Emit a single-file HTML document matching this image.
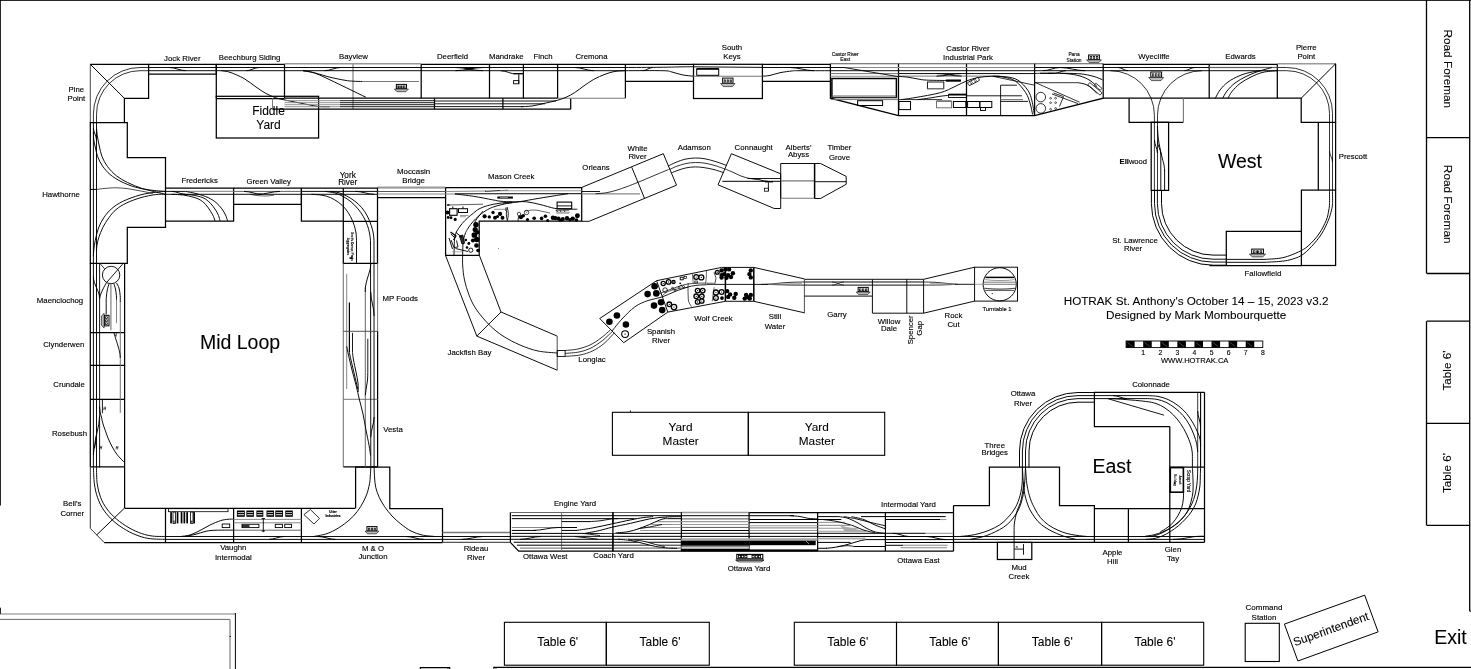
<!DOCTYPE html>
<html><head><meta charset="utf-8"><title>HOTRAK layout</title>
<style>
html,body{margin:0;padding:0;background:#fff;}
body{width:1471px;height:669px;overflow:hidden;font-family:"Liberation Sans",sans-serif;}
svg{display:block;filter:grayscale(1);}
svg text{font-family:"Liberation Sans",sans-serif;fill:#000;}
</style></head><body>
<svg width="1471" height="669" viewBox="0 0 1471 669">
<rect x="0" y="0" width="1471" height="669" fill="#fff"/>
<line x1="0" y1="0.45" x2="1471" y2="0.45" stroke="#000" stroke-width="0.9"/>
<line x1="0.45" y1="0" x2="0.45" y2="505.5" stroke="#000" stroke-width="0.9"/>
<line x1="493.6" y1="667.3" x2="1471" y2="667.3" stroke="#000" stroke-width="1.3"/>
<line x1="0" y1="613.9" x2="235.4" y2="613.9" stroke="#aaa" stroke-width="1.5"/>
<line x1="235.4" y1="613.0" x2="235.4" y2="669" stroke="#000" stroke-width="1.0"/>
<line x1="0" y1="619.4" x2="230" y2="619.4" stroke="#666" stroke-width="1.0"/>
<line x1="230" y1="619.4" x2="230" y2="669" stroke="#999" stroke-width="1.5"/>
<circle cx="230.3" cy="636.4" r="0.6" fill="#000"/>
<line x1="0.45" y1="607.7" x2="0.45" y2="613.9" stroke="#000" stroke-width="0.9"/>
<polyline points="420.3,669 420.3,667.6 449.7,667.6 449.7,669" fill="none" stroke="#000" stroke-width="1.1"/>
<line x1="447.9" y1="667.6" x2="447.9" y2="669" stroke="#000" stroke-width="0.8"/>
<line x1="493.8" y1="666.8" x2="493.8" y2="669" stroke="#000" stroke-width="0.9"/>
<line x1="496" y1="667.3" x2="496" y2="669" stroke="#000" stroke-width="0.8"/>
<line x1="1469.7" y1="0" x2="1469.7" y2="611.2" stroke="#000" stroke-width="1.3"/>
<line x1="1469.7" y1="611.2" x2="1471" y2="611.2" stroke="#000" stroke-width="1.0"/>
<line x1="1426.5" y1="0" x2="1426.5" y2="273.5" stroke="#000" stroke-width="1.3"/>
<line x1="1426.8" y1="137.7" x2="1469.6" y2="137.7" stroke="#000" stroke-width="1.3"/>
<line x1="1426.8" y1="273.5" x2="1469.6" y2="273.5" stroke="#000" stroke-width="1.3"/>
<line x1="1426.5" y1="321.2" x2="1426.5" y2="525.4" stroke="#000" stroke-width="1.3"/>
<line x1="1426.8" y1="321.2" x2="1469.6" y2="321.2" stroke="#000" stroke-width="1.3"/>
<line x1="1426.8" y1="423.4" x2="1469.6" y2="423.4" stroke="#000" stroke-width="1.3"/>
<line x1="1426.8" y1="525.4" x2="1469.6" y2="525.4" stroke="#000" stroke-width="1.3"/>
<text x="1444" y="68.8" font-size="11.8" text-anchor="middle" transform="rotate(90 1444 68.8)" stroke="#000" stroke-width="0.08">Road Foreman</text>
<text x="1444" y="204.2" font-size="11.8" text-anchor="middle" transform="rotate(90 1444 204.2)" stroke="#000" stroke-width="0.08">Road Foreman</text>
<text x="1450.8" y="370.5" font-size="11.7" text-anchor="middle" transform="rotate(-90 1450.8 370.5)" stroke="#000" stroke-width="0.08">Table 6'</text>
<text x="1450.8" y="473" font-size="11.7" text-anchor="middle" transform="rotate(-90 1450.8 473)" stroke="#000" stroke-width="0.08">Table 6'</text>
<rect x="504.4" y="622.3" width="101.9" height="42.9" fill="none" stroke="#000" stroke-width="1.1"/>
<text x="557.6499999999999" y="646.3" font-size="12" text-anchor="middle" stroke="#000" stroke-width="0.08">Table 6'</text>
<rect x="606.3" y="622.3" width="103.0" height="42.9" fill="none" stroke="#000" stroke-width="1.1"/>
<text x="660.0999999999999" y="646.3" font-size="12" text-anchor="middle" stroke="#000" stroke-width="0.08">Table 6'</text>
<rect x="794.3" y="622.3" width="102.2" height="42.9" fill="none" stroke="#000" stroke-width="1.1"/>
<text x="847.6999999999999" y="646.3" font-size="12" text-anchor="middle" stroke="#000" stroke-width="0.08">Table 6'</text>
<rect x="896.5" y="622.3" width="101.9" height="42.9" fill="none" stroke="#000" stroke-width="1.1"/>
<text x="949.75" y="646.3" font-size="12" text-anchor="middle" stroke="#000" stroke-width="0.08">Table 6'</text>
<rect x="998.4" y="622.3" width="103.2" height="42.9" fill="none" stroke="#000" stroke-width="1.1"/>
<text x="1052.3" y="646.3" font-size="12" text-anchor="middle" stroke="#000" stroke-width="0.08">Table 6'</text>
<rect x="1101.6" y="622.3" width="102.1" height="42.9" fill="none" stroke="#000" stroke-width="1.1"/>
<text x="1154.95" y="646.3" font-size="12" text-anchor="middle" stroke="#000" stroke-width="0.08">Table 6'</text>
<rect x="1245.2" y="623.3" width="34.1" height="38.2" fill="none" stroke="#000" stroke-width="1.1"/>
<text x="1264" y="610.2" font-size="8" text-anchor="middle" stroke="#000" stroke-width="0.13">Command</text>
<text x="1264" y="619.8000000000001" font-size="8" text-anchor="middle" stroke="#000" stroke-width="0.13">Station</text>
<polygon points="1284.4,624.1 1364.7,595.2 1378.1,631.9 1297.9,661" fill="none" stroke="#000" stroke-width="1.0"/>
<text x="1332.3" y="632.8" font-size="11.7" text-anchor="middle" transform="rotate(-19.8 1332.3 632.8)" stroke="#000" stroke-width="0.08">Superintendent</text>
<text x="1450.4" y="643.7" font-size="19.5" text-anchor="middle" stroke="#000" stroke-width="0.08">Exit</text>
<rect x="612.4" y="412.3" width="135.9" height="43.0" fill="none" stroke="#000" stroke-width="1.1"/>
<rect x="748.3" y="412.3" width="136.4" height="43.0" fill="none" stroke="#000" stroke-width="1.1"/>
<text x="680.6" y="430.8" font-size="11.8" text-anchor="middle" stroke="#000" stroke-width="0.08">Yard</text>
<text x="680.6" y="444.90000000000003" font-size="11.8" text-anchor="middle" stroke="#000" stroke-width="0.08">Master</text>
<text x="816.8" y="430.8" font-size="11.8" text-anchor="middle" stroke="#000" stroke-width="0.08">Yard</text>
<text x="816.8" y="444.90000000000003" font-size="11.8" text-anchor="middle" stroke="#000" stroke-width="0.08">Master</text>
<text x="1063.7" y="304.9" font-size="11.7" text-anchor="start" stroke="#000" stroke-width="0.08">HOTRAK St. Anthony's October 14 – 15, 2023 v3.2</text>
<text x="1106" y="318.7" font-size="11.75" text-anchor="start" stroke="#000" stroke-width="0.08">Designed by Mark Mombourquette</text>
<rect x="1126.10" y="341" width="8.54" height="6.6" fill="#000"/>
<rect x="1143.19" y="341" width="8.54" height="6.6" fill="#000"/>
<rect x="1160.27" y="341" width="8.54" height="6.6" fill="#000"/>
<rect x="1177.36" y="341" width="8.54" height="6.6" fill="#000"/>
<rect x="1194.45" y="341" width="8.54" height="6.6" fill="#000"/>
<rect x="1211.54" y="341" width="8.54" height="6.6" fill="#000"/>
<rect x="1228.62" y="341" width="8.54" height="6.6" fill="#000"/>
<rect x="1245.71" y="341" width="8.54" height="6.6" fill="#000"/>
<rect x="1126.1" y="341" width="136.7" height="6.6" fill="none" stroke="#000" stroke-width="0.9"/>
<text x="1143.1875" y="354.8" font-size="6.8" text-anchor="middle" stroke="#000" stroke-width="0.13">1</text>
<text x="1160.2749999999999" y="354.8" font-size="6.8" text-anchor="middle" stroke="#000" stroke-width="0.13">2</text>
<text x="1177.3625" y="354.8" font-size="6.8" text-anchor="middle" stroke="#000" stroke-width="0.13">3</text>
<text x="1194.4499999999998" y="354.8" font-size="6.8" text-anchor="middle" stroke="#000" stroke-width="0.13">4</text>
<text x="1211.5375" y="354.8" font-size="6.8" text-anchor="middle" stroke="#000" stroke-width="0.13">5</text>
<text x="1228.625" y="354.8" font-size="6.8" text-anchor="middle" stroke="#000" stroke-width="0.13">6</text>
<text x="1245.7124999999999" y="354.8" font-size="6.8" text-anchor="middle" stroke="#000" stroke-width="0.13">7</text>
<text x="1262.8" y="354.8" font-size="6.8" text-anchor="middle" stroke="#000" stroke-width="0.13">8</text>
<text x="1194.7" y="362.9" font-size="7.6" text-anchor="middle" stroke="#000" stroke-width="0.13">WWW.HOTRAK.CA</text>
<text x="240" y="349" font-size="19.5" text-anchor="middle" stroke="#000" stroke-width="0.08">Mid Loop</text>
<text x="1240" y="168" font-size="19.5" text-anchor="middle" stroke="#000" stroke-width="0.08">West</text>
<text x="1112" y="472.6" font-size="19.5" text-anchor="middle" stroke="#000" stroke-width="0.08">East</text>
<text x="268.5" y="115" font-size="12" text-anchor="middle" stroke="#000" stroke-width="0.08">Fiddle</text>
<text x="268.5" y="129.1" font-size="12" text-anchor="middle" stroke="#000" stroke-width="0.08">Yard</text>
<polyline points="90.3,64.3 148.6,64.3 148.6,98.3 124.4,98.3 124.4,122.6" fill="none" stroke="#000" stroke-width="1.25"/>
<line x1="90.3" y1="64.3" x2="90.3" y2="122.6" stroke="#333" stroke-width="0.9"/>
<line x1="90.3" y1="64.3" x2="124.4" y2="98.3" stroke="#000" stroke-width="1.0"/>
<polyline points="148.6,64.3 216.3,64.3 216.3,74.2 148.6,74.2" fill="none" stroke="#000" stroke-width="1.25"/>
<polyline points="216.3,64.3 284.5,64.3 284.5,98.2" fill="none" stroke="#000" stroke-width="1.25"/>
<line x1="216.3" y1="64.3" x2="216.3" y2="98.2" stroke="#000" stroke-width="1.25"/>
<line x1="216.3" y1="98.5" x2="284.5" y2="98.5" stroke="#000" stroke-width="1.25"/>
<rect x="216.3" y="96.3" width="102.3" height="41.7" fill="none" stroke="#000" stroke-width="1.25"/>
<line x1="284.5" y1="63.7" x2="421.2" y2="63.7" stroke="#999" stroke-width="1.6"/>
<line x1="353.0" y1="64" x2="353.0" y2="109.2" stroke="#999" stroke-width="1.5"/>
<line x1="421.2" y1="64.3" x2="421.2" y2="98.2" stroke="#000" stroke-width="1.25"/>
<line x1="272.5" y1="98.2" x2="272.5" y2="109.2" stroke="#777" stroke-width="1.0"/>
<line x1="272.5" y1="109.2" x2="570.7" y2="109.2" stroke="#000" stroke-width="1.25"/>
<line x1="284.5" y1="98.2" x2="557.6" y2="98.2" stroke="#000" stroke-width="1.25"/>
<line x1="434.5" y1="98.2" x2="434.5" y2="109.2" stroke="#000" stroke-width="1.25"/>
<line x1="502.9" y1="98.2" x2="502.9" y2="109.2" stroke="#000" stroke-width="1.25"/>
<line x1="570.7" y1="98.2" x2="570.7" y2="109.2" stroke="#000" stroke-width="1.25"/>
<line x1="421.2" y1="64.3" x2="625.4" y2="64.3" stroke="#000" stroke-width="1.25"/>
<line x1="489.5" y1="64.3" x2="489.5" y2="98.2" stroke="#000" stroke-width="1.25"/>
<line x1="523.4" y1="64.3" x2="523.4" y2="98.2" stroke="#000" stroke-width="1.25"/>
<line x1="557.6" y1="64.3" x2="557.6" y2="98.2" stroke="#000" stroke-width="1.25"/>
<line x1="625.4" y1="64.3" x2="625.4" y2="98.2" stroke="#000" stroke-width="1.25"/>
<line x1="557.6" y1="98.2" x2="625.4" y2="98.2" stroke="#777" stroke-width="1.1"/>
<polyline points="625.4,64.3 693.5,64.3" fill="none" stroke="#000" stroke-width="1.25"/>
<line x1="625.4" y1="81.4" x2="693.5" y2="81.4" stroke="#000" stroke-width="1.25"/>
<rect x="693.5" y="64.3" width="68.9" height="34.2" fill="none" stroke="#000" stroke-width="1.25"/>
<line x1="762.4" y1="64.3" x2="830.4" y2="64.3" stroke="#000" stroke-width="1.25"/>
<line x1="762.4" y1="81.4" x2="830.4" y2="81.4" stroke="#000" stroke-width="1.25"/>
<line x1="830.4" y1="63.8" x2="1103.2" y2="63.8" stroke="#555" stroke-width="1.1"/>
<polyline points="830.4,63.8 830.4,98.2 898.5,115.5 1034.6,115.5 1103.2,98.2 1103.2,63.8" fill="none" stroke="#000" stroke-width="1.25"/>
<line x1="898.5" y1="63.8" x2="898.5" y2="115.5" stroke="#000" stroke-width="1.25"/>
<line x1="966.5" y1="63.8" x2="966.5" y2="115.5" stroke="#000" stroke-width="1.25"/>
<line x1="1034.6" y1="63.8" x2="1034.6" y2="115.5" stroke="#000" stroke-width="1.25"/>
<polyline points="1103.2,64.3 1209.2,64.3 1209.2,98.2 1103.2,98.2" fill="none" stroke="#000" stroke-width="1.25"/>
<polyline points="1129.1,98.2 1129.1,122.3 1183.4,122.3" fill="none" stroke="#000" stroke-width="1.25"/>
<line x1="1183.4" y1="98.2" x2="1183.4" y2="122.3" stroke="#777" stroke-width="1.1"/>
<polyline points="1209.2,64.3 1277.3,64.3 1277.3,98.2 1209.2,98.2" fill="none" stroke="#000" stroke-width="1.25"/>
<line x1="1277.3" y1="63.7" x2="1335.6" y2="63.7" stroke="#999" stroke-width="1.5"/>
<polyline points="1335.6,63.8 1335.6,122.3 1301.2,122.3 1301.2,98.2 1277.3,98.2" fill="none" stroke="#000" stroke-width="1.25"/>
<line x1="1335.6" y1="63.8" x2="1301.2" y2="98.2" stroke="#000" stroke-width="1.0"/>
<line x1="1318.3" y1="122.3" x2="1318.3" y2="190.1" stroke="#000" stroke-width="1.25"/>
<line x1="1335.6" y1="122.3" x2="1335.6" y2="190.1" stroke="#000" stroke-width="1.25"/>
<rect x="1301.4" y="190.1" width="34.2" height="75.4" fill="none" stroke="#000" stroke-width="1.25"/>
<polyline points="1226.3,265.5 1226.3,231.3 1301.4,231.3" fill="none" stroke="#000" stroke-width="1.25"/>
<line x1="1209.5" y1="265.5" x2="1301.4" y2="265.5" stroke="#000" stroke-width="1.25"/>
<rect x="1151.2" y="122.3" width="17.4" height="68.1" fill="none" stroke="#000" stroke-width="1.25"/>
<polygon points="90.3,122.6 127.3,122.6 127.3,157.5 165.5,157.5 165.5,227.3 127.3,227.3 127.3,263.4 90.3,263.4" fill="none" stroke="#000" stroke-width="1.25"/>
<polyline points="165.5,188.1 233.6,188.1 233.6,221.2 165.5,221.2" fill="none" stroke="#000" stroke-width="1.25"/>
<polyline points="233.6,188.1 301.4,188.1 301.4,204.4 233.6,204.4" fill="none" stroke="#000" stroke-width="1.25"/>
<polyline points="301.4,188.1 377.5,188.1 377.5,263.4 343.3,263.4 343.3,221.2 301.4,221.2 301.4,188.1" fill="none" stroke="#000" stroke-width="1.25"/>
<line x1="343.3" y1="188.1" x2="343.3" y2="221.2" stroke="#000" stroke-width="1.25"/>
<line x1="343.3" y1="221.3" x2="377.5" y2="221.3" stroke="#000" stroke-width="1.25"/>
<line x1="343.3" y1="263.4" x2="343.3" y2="466.8" stroke="#777" stroke-width="1.1"/>
<line x1="377.6" y1="263.4" x2="377.6" y2="331.3" stroke="#777" stroke-width="1.0"/>
<line x1="377.6" y1="331.3" x2="377.6" y2="467.2" stroke="#000" stroke-width="1.25"/>
<line x1="343.3" y1="399.3" x2="377.5" y2="399.3" stroke="#777" stroke-width="1.0"/>
<line x1="343.3" y1="466.8" x2="377.5" y2="466.8" stroke="#000" stroke-width="1.25"/>
<line x1="90.3" y1="263.4" x2="90.3" y2="466.8" stroke="#000" stroke-width="1.25"/>
<line x1="124.6" y1="263.4" x2="124.6" y2="508" stroke="#000" stroke-width="1.25"/>
<line x1="90.3" y1="365.4" x2="124.6" y2="365.4" stroke="#000" stroke-width="1.25"/>
<line x1="90.3" y1="399.3" x2="124.6" y2="399.3" stroke="#000" stroke-width="1.25"/>
<line x1="90.3" y1="466.8" x2="124.6" y2="466.8" stroke="#000" stroke-width="1.25"/>
<line x1="90.3" y1="332.5" x2="124.6" y2="332.5" stroke="#000" stroke-width="1.25"/>
<polyline points="90.3,466.8 90.3,528.4 104.2,542.5" fill="none" stroke="#333" stroke-width="1.0"/>
<line x1="104.2" y1="542.5" x2="442.6" y2="542.5" stroke="#000" stroke-width="1.25"/>
<line x1="124.6" y1="508.3" x2="355.4" y2="508.3" stroke="#000" stroke-width="1.25"/>
<line x1="124.6" y1="508" x2="96.7" y2="534.9" stroke="#000" stroke-width="1.0"/>
<line x1="165.5" y1="508.3" x2="165.5" y2="542.5" stroke="#000" stroke-width="1.25"/>
<line x1="233.6" y1="508.3" x2="233.6" y2="542.5" stroke="#000" stroke-width="1.25"/>
<line x1="301.4" y1="508.3" x2="301.4" y2="542.5" stroke="#000" stroke-width="1.25"/>
<polyline points="355.6,508.3 355.6,467.2 389.8,467.2 389.8,508.5 442.5,508.5 442.5,542.5" fill="none" stroke="#000" stroke-width="1.25"/>
<line x1="442.5" y1="532.5" x2="510.3" y2="532.5" stroke="#777" stroke-width="1.4"/>
<line x1="442.5" y1="542.3" x2="510.3" y2="542.3" stroke="#555" stroke-width="1.2"/>
<polyline points="510.4,542.4 510.4,512.3" fill="none" stroke="#000" stroke-width="1.25"/>
<line x1="510.4" y1="512.5" x2="681.3" y2="512.5" stroke="#666" stroke-width="1.2"/>
<line x1="681.3" y1="512.5" x2="749.4" y2="512.5" stroke="#999" stroke-width="1.3"/>
<line x1="749.4" y1="512.6" x2="953.5" y2="512.6" stroke="#000" stroke-width="1.2"/>
<polyline points="510.4,542.4 518.7,551.2 953.5,551.2" fill="none" stroke="#000" stroke-width="1.25"/>
<line x1="561.6" y1="512.3" x2="561.6" y2="551.2" stroke="#777" stroke-width="1.0"/>
<line x1="612.9" y1="512.3" x2="612.9" y2="551.2" stroke="#000" stroke-width="1.25"/>
<line x1="681.4" y1="512.3" x2="681.4" y2="551.2" stroke="#000" stroke-width="1.25"/>
<line x1="749.1" y1="512.3" x2="749.1" y2="551.2" stroke="#000" stroke-width="1.25"/>
<line x1="817.6" y1="512.3" x2="817.6" y2="551.2" stroke="#000" stroke-width="1.25"/>
<line x1="885.4" y1="512.3" x2="885.4" y2="551.2" stroke="#000" stroke-width="1.25"/>
<line x1="953.5" y1="505.5" x2="953.5" y2="551.2" stroke="#000" stroke-width="1.25"/>
<polyline points="953.5,505.5 989.4,505.5 989.4,467.1 1059.5,467.1 1059.5,505.5 1094.4,505.5 1094.4,542.4" fill="none" stroke="#000" stroke-width="1.25"/>
<line x1="953.5" y1="542.4" x2="1204.5" y2="542.4" stroke="#000" stroke-width="1.25"/>
<rect x="997.4" y="542.4" width="34.4" height="17.1" fill="none" stroke="#000" stroke-width="1.25"/>
<line x1="1094.4" y1="508.5" x2="1204.5" y2="508.5" stroke="#000" stroke-width="1.25"/>
<line x1="1128.4" y1="508.5" x2="1128.4" y2="542.4" stroke="#000" stroke-width="1.25"/>
<line x1="1169.8" y1="426.4" x2="1169.8" y2="542.4" stroke="#000" stroke-width="1.25"/>
<line x1="1204.5" y1="392.3" x2="1204.5" y2="542.4" stroke="#000" stroke-width="1.25"/>
<polyline points="1204.5,392.3 1094.4,392.3 1094.4,426.5 1169.8,426.5" fill="none" stroke="#000" stroke-width="1.25"/>
<line x1="1169.8" y1="467.1" x2="1204.5" y2="467.1" stroke="#000" stroke-width="1.25"/>
<rect x="1170.3" y="467.6" width="13.1" height="24.6" fill="none" stroke="#000" stroke-width="1.6"/>
<line x1="377.5" y1="187.6" x2="445.6" y2="187.6" stroke="#000" stroke-width="1.25"/>
<line x1="377.5" y1="197.6" x2="445.6" y2="197.6" stroke="#000" stroke-width="1.25"/>
<polygon points="445.6,187.6 581.7,187.6 581.7,221.2 479.2,221.2 479.2,255.4 445.6,255.4" fill="none" stroke="#000" stroke-width="1.25"/>
<polyline points="581.8,187.4 663.3,153.7 676.5,185.2 589.1,221.3 581.7,221.3" fill="none" stroke="#000" stroke-width="0.95"/>
<line x1="631.7" y1="167.1" x2="644.6" y2="198.5" stroke="#000" stroke-width="0.95"/>
<polygon points="731.4,153.7 780.7,173.8 780.7,208.5 774.2,208.5 718,184.8" fill="none" stroke="#000" stroke-width="0.95"/>
<polyline points="780.7,198.5 780.7,163.5 820.5,163.5 846.2,176.4 846.2,184.3 820.5,198.5 814.6,198.5" fill="none" stroke="#000" stroke-width="0.95"/>
<line x1="780.7" y1="198.3" x2="814.6" y2="198.3" stroke="#777" stroke-width="1.1"/>
<line x1="780.7" y1="180.9" x2="814.6" y2="180.9" stroke="#777" stroke-width="1.1"/>
<line x1="814.6" y1="163.5" x2="814.6" y2="198.5" stroke="#000" stroke-width="1.5"/>
<line x1="814.6" y1="181.7" x2="846.2" y2="181.7" stroke="#000" stroke-width="0.95"/>
<polyline points="445.5,255.4 476.8,336.1 557.2,370.2" fill="none" stroke="#000" stroke-width="0.95"/>
<polyline points="479.4,255.4 501,312 557.2,336.1" fill="none" stroke="#000" stroke-width="0.95"/>
<line x1="476.8" y1="336.1" x2="501" y2="312" stroke="#000" stroke-width="0.95"/>
<line x1="557.2" y1="336.1" x2="557.2" y2="370.2" stroke="#444" stroke-width="0.95"/>
<rect x="557.2" y="350.5" width="7.9" height="5.9" fill="none" stroke="#000" stroke-width="0.9"/>
<polygon points="599.7,318.5 656.6,280.7 667.8,312.1 623.7,342.7" fill="none" stroke="#000" stroke-width="0.95"/>
<polyline points="656.6,280.7 721.6,267.4 753.8,267.4" fill="none" stroke="#000" stroke-width="0.95"/>
<polyline points="667.8,312.1 725.4,301.3 753.8,301.3" fill="none" stroke="#000" stroke-width="0.95"/>
<line x1="725.4" y1="267.4" x2="725.4" y2="301.3" stroke="#000" stroke-width="1.5"/>
<line x1="753.8" y1="267.4" x2="753.8" y2="301.3" stroke="#000" stroke-width="1.5"/>
<polyline points="753.8,267.4 804.4,278.9" fill="none" stroke="#000" stroke-width="0.95"/>
<polyline points="753.8,301.3 804.4,312.8" fill="none" stroke="#000" stroke-width="0.95"/>
<line x1="804.4" y1="279.3" x2="804.4" y2="313.2" stroke="#444" stroke-width="0.95"/>
<polyline points="804.4,279.3 872.4,279.3" fill="none" stroke="#000" stroke-width="0.95"/>
<polyline points="804.4,296.1 872.4,296.1" fill="none" stroke="#000" stroke-width="0.95"/>
<polyline points="872.4,279.3 923.6,279.3" fill="none" stroke="#000" stroke-width="0.95"/>
<polyline points="872.4,279.3 872.4,313.2 923.6,313.2 923.6,279.3" fill="none" stroke="#000" stroke-width="0.95"/>
<line x1="906.8" y1="279.3" x2="906.8" y2="313.2" stroke="#000" stroke-width="0.95"/>
<polyline points="923.6,279.3 974.6,267.2" fill="none" stroke="#000" stroke-width="0.95"/>
<polyline points="923.6,313.2 974.6,301.1" fill="none" stroke="#000" stroke-width="0.95"/>
<rect x="974.6" y="267.2" width="42.9" height="33.9" fill="none" stroke="#000" stroke-width="0.95"/>
<circle cx="999.7" cy="284.3" r="16.6" fill="none" stroke="#000" stroke-width="0.95"/>
<text x="182.3" y="60.7" font-size="7.8" text-anchor="middle" stroke="#000" stroke-width="0.13">Jock River</text>
<text x="249.6" y="60.4" font-size="7.8" text-anchor="middle" stroke="#000" stroke-width="0.13">Beechburg Siding</text>
<text x="353.5" y="58.7" font-size="7.8" text-anchor="middle" stroke="#000" stroke-width="0.13">Bayview</text>
<text x="452.6" y="58.8" font-size="7.8" text-anchor="middle" stroke="#000" stroke-width="0.13">Deerfield</text>
<text x="506.3" y="58.7" font-size="7.8" text-anchor="middle" stroke="#000" stroke-width="0.13">Mandrake</text>
<text x="543" y="58.8" font-size="7.8" text-anchor="middle" stroke="#000" stroke-width="0.13">Finch</text>
<text x="591.5" y="58.7" font-size="7.8" text-anchor="middle" stroke="#000" stroke-width="0.13">Cremona</text>
<text x="732" y="49.5" font-size="7.8" text-anchor="middle" stroke="#000" stroke-width="0.13">South</text>
<text x="732" y="58.8" font-size="7.8" text-anchor="middle" stroke="#000" stroke-width="0.13">Keys</text>
<text x="968" y="50.8" font-size="7.8" text-anchor="middle" stroke="#000" stroke-width="0.13">Castor River</text>
<text x="968" y="60.2" font-size="7.8" text-anchor="middle" stroke="#000" stroke-width="0.13">Industrial Park</text>
<text x="845.2" y="56" font-size="4.85" text-anchor="middle" stroke="#000" stroke-width="0.13">Castor River</text>
<text x="845.2" y="60.7" font-size="4.85" text-anchor="middle" stroke="#000" stroke-width="0.13">East</text>
<text x="1074" y="55.5" font-size="4.8" text-anchor="middle" stroke="#000" stroke-width="0.13">Pana</text>
<text x="1074" y="61.8" font-size="4.8" text-anchor="middle" stroke="#000" stroke-width="0.13">Station</text>
<text x="1154" y="59.1" font-size="7.8" text-anchor="middle" stroke="#000" stroke-width="0.13">Wyecliffe</text>
<text x="1240.5" y="59.0" font-size="7.8" text-anchor="middle" stroke="#000" stroke-width="0.13">Edwards</text>
<text x="1306.3" y="49.9" font-size="7.8" text-anchor="middle" stroke="#000" stroke-width="0.13">Pierre</text>
<text x="1306.3" y="59.1" font-size="7.8" text-anchor="middle" stroke="#000" stroke-width="0.13">Point</text>
<text x="76.4" y="91.9" font-size="7.8" text-anchor="middle" stroke="#000" stroke-width="0.13">Pine</text>
<text x="76.4" y="101.1" font-size="7.8" text-anchor="middle" stroke="#000" stroke-width="0.13">Point</text>
<text x="79.9" y="197.4" font-size="7.8" text-anchor="end" stroke="#000" stroke-width="0.13">Hawthorne</text>
<text x="199.6" y="183" font-size="7.8" text-anchor="middle" stroke="#000" stroke-width="0.13">Fredericks</text>
<text x="268.7" y="183.5" font-size="7.8" text-anchor="middle" stroke="#000" stroke-width="0.13">Green Valley</text>
<text x="347.7" y="177.8" font-size="8.2" text-anchor="middle" stroke="#000" stroke-width="0.13">York</text>
<text x="347.7" y="185.3" font-size="8.2" text-anchor="middle" stroke="#000" stroke-width="0.13">River</text>
<text x="413.6" y="174.1" font-size="7.9" text-anchor="middle" stroke="#000" stroke-width="0.13">Moccasin</text>
<text x="413.6" y="182.7" font-size="7.9" text-anchor="middle" stroke="#000" stroke-width="0.13">Bridge</text>
<text x="511.3" y="179" font-size="7.8" text-anchor="middle" stroke="#000" stroke-width="0.13">Mason Creek</text>
<text x="596" y="169.6" font-size="7.8" text-anchor="middle" stroke="#000" stroke-width="0.13">Orleans</text>
<text x="637.5" y="151.4" font-size="7.8" text-anchor="middle" stroke="#000" stroke-width="0.13">White</text>
<text x="637.5" y="158.7" font-size="7.8" text-anchor="middle" stroke="#000" stroke-width="0.13">River</text>
<text x="694.3" y="150.0" font-size="7.8" text-anchor="middle" stroke="#000" stroke-width="0.13">Adamson</text>
<text x="753.7" y="150.0" font-size="7.8" text-anchor="middle" stroke="#000" stroke-width="0.13">Connaught</text>
<text x="798.5" y="150.0" font-size="7.8" text-anchor="middle" stroke="#000" stroke-width="0.13">Alberts'</text>
<text x="798.5" y="156.7" font-size="7.8" text-anchor="middle" stroke="#000" stroke-width="0.13">Abyss</text>
<text x="839.5" y="149.6" font-size="7.8" text-anchor="middle" stroke="#000" stroke-width="0.13">Timber</text>
<text x="839.5" y="159.5" font-size="7.8" text-anchor="middle" stroke="#000" stroke-width="0.13">Grove</text>
<text x="83.2" y="302.7" font-size="7.8" text-anchor="end" stroke="#000" stroke-width="0.13">Maenclochog</text>
<text x="84.4" y="346.8" font-size="7.8" text-anchor="end" stroke="#000" stroke-width="0.13">Clynderwen</text>
<text x="84.9" y="386.9" font-size="7.8" text-anchor="end" stroke="#000" stroke-width="0.13">Crundale</text>
<text x="87.1" y="436" font-size="7.8" text-anchor="end" stroke="#000" stroke-width="0.13">Rosebush</text>
<text x="72.3" y="506" font-size="7.8" text-anchor="middle" stroke="#000" stroke-width="0.13">Bell's</text>
<text x="72.3" y="515.5" font-size="7.8" text-anchor="middle" stroke="#000" stroke-width="0.13">Corner</text>
<text x="400.2" y="301" font-size="7.8" text-anchor="middle" stroke="#000" stroke-width="0.13">MP Foods</text>
<text x="393" y="432" font-size="7.8" text-anchor="middle" stroke="#000" stroke-width="0.13">Vesta</text>
<text x="469.5" y="355.3" font-size="7.8" text-anchor="middle" stroke="#000" stroke-width="0.13">Jackfish Bay</text>
<text x="592" y="361.8" font-size="7.8" text-anchor="middle" stroke="#000" stroke-width="0.13">Longlac</text>
<text x="661" y="333.5" font-size="7.8" text-anchor="middle" stroke="#000" stroke-width="0.13">Spanish</text>
<text x="661" y="342.8" font-size="7.8" text-anchor="middle" stroke="#000" stroke-width="0.13">River</text>
<text x="713.5" y="320.5" font-size="7.8" text-anchor="middle" stroke="#000" stroke-width="0.13">Wolf Creek</text>
<text x="775" y="319.0" font-size="7.8" text-anchor="middle" stroke="#000" stroke-width="0.13">Still</text>
<text x="775" y="328.9" font-size="7.8" text-anchor="middle" stroke="#000" stroke-width="0.13">Water</text>
<text x="837" y="317.1" font-size="7.8" text-anchor="middle" stroke="#000" stroke-width="0.13">Garry</text>
<text x="889" y="324" font-size="7.8" text-anchor="middle" stroke="#000" stroke-width="0.13">Willow</text>
<text x="889" y="330.6" font-size="7.8" text-anchor="middle" stroke="#000" stroke-width="0.13">Dale</text>
<text x="913.3" y="329.8" font-size="7.8" text-anchor="middle" transform="rotate(-90 913.3 329.8)" stroke="#000" stroke-width="0.13">Spencer</text>
<text x="922.3" y="328.3" font-size="7.8" text-anchor="middle" transform="rotate(-90 922.3 328.3)" stroke="#000" stroke-width="0.13">Gap</text>
<text x="953.5" y="317.5" font-size="7.8" text-anchor="middle" stroke="#000" stroke-width="0.13">Rock</text>
<text x="953.5" y="327.2" font-size="7.8" text-anchor="middle" stroke="#000" stroke-width="0.13">Cut</text>
<text x="997" y="310.6" font-size="5.8" text-anchor="middle" stroke="#000" stroke-width="0.13">Turntable 1</text>
<text x="1151" y="386.9" font-size="7.8" text-anchor="middle" stroke="#000" stroke-width="0.13">Colonnade</text>
<text x="1023" y="396.3" font-size="7.8" text-anchor="middle" stroke="#000" stroke-width="0.13">Ottawa</text>
<text x="1023" y="405.6" font-size="7.8" text-anchor="middle" stroke="#000" stroke-width="0.13">River</text>
<text x="994.8" y="448.3" font-size="7.8" text-anchor="middle" stroke="#000" stroke-width="0.13">Three</text>
<text x="994.8" y="455.1" font-size="7.8" text-anchor="middle" stroke="#000" stroke-width="0.13">Bridges</text>
<text x="575" y="506" font-size="7.8" text-anchor="middle" stroke="#000" stroke-width="0.13">Engine Yard</text>
<text x="908.5" y="507.2" font-size="7.8" text-anchor="middle" stroke="#000" stroke-width="0.13">Intermodal Yard</text>
<text x="233.3" y="550.3" font-size="7.8" text-anchor="middle" stroke="#000" stroke-width="0.13">Vaughn</text>
<text x="233.3" y="559.5" font-size="7.8" text-anchor="middle" stroke="#000" stroke-width="0.13">Intermodal</text>
<text x="373" y="550.5" font-size="7.8" text-anchor="middle" stroke="#000" stroke-width="0.13">M &amp; O</text>
<text x="373" y="559.1" font-size="7.8" text-anchor="middle" stroke="#000" stroke-width="0.13">Junction</text>
<text x="476" y="550.8" font-size="7.8" text-anchor="middle" stroke="#000" stroke-width="0.13">Rideau</text>
<text x="476" y="560.4" font-size="7.8" text-anchor="middle" stroke="#000" stroke-width="0.13">River</text>
<text x="545.3" y="559" font-size="7.8" text-anchor="middle" stroke="#000" stroke-width="0.13">Ottawa West</text>
<text x="613.5" y="558" font-size="7.8" text-anchor="middle" stroke="#000" stroke-width="0.13">Coach Yard</text>
<text x="749" y="571" font-size="7.8" text-anchor="middle" stroke="#000" stroke-width="0.13">Ottawa Yard</text>
<text x="918.5" y="562.9" font-size="7.8" text-anchor="middle" stroke="#000" stroke-width="0.13">Ottawa East</text>
<text x="1019" y="569.6" font-size="7.8" text-anchor="middle" stroke="#000" stroke-width="0.13">Mud</text>
<text x="1019" y="579.3" font-size="7.8" text-anchor="middle" stroke="#000" stroke-width="0.13">Creek</text>
<text x="1112.5" y="555" font-size="7.8" text-anchor="middle" stroke="#000" stroke-width="0.13">Apple</text>
<text x="1112.5" y="564.3" font-size="7.8" text-anchor="middle" stroke="#000" stroke-width="0.13">Hill</text>
<text x="1173" y="552.2" font-size="7.8" text-anchor="middle" stroke="#000" stroke-width="0.13">Glen</text>
<text x="1173" y="561.3" font-size="7.8" text-anchor="middle" stroke="#000" stroke-width="0.13">Tay</text>
<text x="1119.6" y="163.9" font-size="7.6" text-anchor="start" stroke="#000" stroke-width="0.13"><tspan font-weight="bold">Ell</tspan>wood</text>
<text x="1353" y="159.3" font-size="7.8" text-anchor="middle" stroke="#000" stroke-width="0.13">Prescott</text>
<text x="1135" y="243.3" font-size="7.8" text-anchor="middle" stroke="#000" stroke-width="0.13">St. Lawrence</text>
<text x="1133" y="250.5" font-size="7.8" text-anchor="middle" stroke="#000" stroke-width="0.13">River</text>
<text x="1263" y="275.8" font-size="7.8" text-anchor="middle" stroke="#000" stroke-width="0.13">Fallowfield</text>
<path d="M148.6,67.5 L140,67.5 A46.6,46.6 0 0 0 93.4,114.1 L93.4,122.6" fill="none" stroke="#000" stroke-width="0.8"/>
<path d="M148.6,70.7 L140,70.7 A43.5,43.5 0 0 0 96.5,114.2 L96.5,122.6" fill="none" stroke="#000" stroke-width="0.8"/>
<line x1="148.6" y1="67.5" x2="625.5" y2="67.5" stroke="#000" stroke-width="0.95"/>
<line x1="148.6" y1="70.7" x2="625.5" y2="70.7" stroke="#000" stroke-width="0.95"/>
<path d="M169.3,67.5 C175.145,67.5 180.155,70.7 186,70.7" fill="none" stroke="#000" stroke-width="0.95"/>
<path d="M246.5,70.7 C250.875,70.7 254.625,67.5 259,67.5" fill="none" stroke="#000" stroke-width="0.95"/>
<path d="M221.30,70.70 C222.75,70.97 226.22,71.00 230.00,72.30 C233.78,73.60 239.67,76.05 244.00,78.50 C248.33,80.95 252.33,84.50 256.00,87.00 C259.67,89.50 262.77,91.73 266.00,93.50 C269.23,95.27 272.57,96.58 275.40,97.60 C278.23,98.62 278.90,98.70 283.00,99.60 C287.10,100.50 294.17,101.87 300.00,103.00 C305.83,104.13 313.00,105.78 318.00,106.40 C323.00,107.02 328.00,106.65 330.00,106.70" fill="none" stroke="#000" stroke-width="0.95"/>
<path d="M324.3,70.7 C330.04,70.7 334.96,67.5 340.7,67.5" fill="none" stroke="#000" stroke-width="0.95"/>
<path d="M303.00,70.70 C305.00,71.08 310.50,71.92 315.00,73.00 C319.50,74.08 325.00,75.98 330.00,77.20 C335.00,78.42 341.13,79.63 345.00,80.30 C348.87,80.97 350.37,81.00 353.20,81.20 C356.03,81.40 360.53,81.45 362.00,81.50" fill="none" stroke="#000" stroke-width="0.95"/>
<line x1="362" y1="81.5" x2="419" y2="81.5" stroke="#777" stroke-width="1.0"/>
<path d="M303.00,70.70 C304.50,70.95 308.33,71.07 312.00,72.20 C315.67,73.33 316.03,73.33 325.00,77.50 C333.97,81.67 359.00,93.92 365.80,97.20" fill="none" stroke="#000" stroke-width="0.95"/>
<rect x="396.36" y="84.40" width="10.08" height="4.38" fill="#fff" stroke="#000" stroke-width="1"/>
<rect x="397.80" y="85.93" width="1.44" height="1.97" fill="#fff" stroke="#000" stroke-width="0.7"/>
<rect x="400.68" y="85.93" width="1.44" height="1.97" fill="#fff" stroke="#000" stroke-width="0.7"/>
<rect x="403.56" y="85.93" width="1.44" height="1.97" fill="#fff" stroke="#000" stroke-width="0.7"/>
<polygon points="394.40,89.08 408.40,89.08 405.88,91.70 396.92,91.70" fill="#bbb" stroke="#000" stroke-width="0.6"/>
<line x1="284.5" y1="100.7" x2="340" y2="100.7" stroke="#888" stroke-width="0.9"/>
<line x1="340" y1="100.7" x2="434.5" y2="100.7" stroke="#000" stroke-width="0.9"/>
<line x1="284.5" y1="102.7" x2="340" y2="102.7" stroke="#888" stroke-width="0.9"/>
<line x1="340" y1="102.7" x2="434.5" y2="102.7" stroke="#000" stroke-width="0.9"/>
<line x1="284.5" y1="104.7" x2="340" y2="104.7" stroke="#888" stroke-width="0.9"/>
<line x1="340" y1="104.7" x2="434.5" y2="104.7" stroke="#000" stroke-width="0.9"/>
<line x1="284.5" y1="106.7" x2="340" y2="106.7" stroke="#888" stroke-width="0.9"/>
<line x1="340" y1="106.7" x2="434.5" y2="106.7" stroke="#000" stroke-width="0.9"/>
<line x1="434.5" y1="101.0" x2="523" y2="101.0" stroke="#000" stroke-width="0.9"/>
<line x1="434.5" y1="103.8" x2="523" y2="103.8" stroke="#000" stroke-width="0.9"/>
<line x1="434.5" y1="106.6" x2="523" y2="106.6" stroke="#000" stroke-width="0.9"/>
<line x1="523" y1="101" x2="556" y2="101" stroke="#000" stroke-width="0.9"/>
<line x1="523" y1="103.8" x2="545" y2="103.8" stroke="#000" stroke-width="0.9"/>
<path d="M455.4,67.5 C465.06,67.5 473.34,70.7 483,70.7" fill="none" stroke="#000" stroke-width="0.95"/>
<path d="M455.4,70.7 C465.06,70.7 473.34,67.5 483,67.5" fill="none" stroke="#000" stroke-width="0.95"/>
<polygon points="464,67.5 469.2,69.4 474.4,67.5" fill="#000" stroke="#000" stroke-width="0.5"/>
<path d="M500.60,70.70 C501.50,70.85 504.27,71.18 506.00,71.60 C507.73,72.02 509.67,72.85 511.00,73.20 C512.33,73.55 513.50,73.62 514.00,73.70" fill="none" stroke="#000" stroke-width="0.95"/>
<line x1="513.5" y1="73.7" x2="523.2" y2="73.7" stroke="#000" stroke-width="1.4"/>
<line x1="518.8" y1="74.3" x2="518.8" y2="83.8" stroke="#000" stroke-width="1.0"/>
<rect x="513.6" y="80.6" width="5.2" height="3.2" fill="none" stroke="#000" stroke-width="0.9"/>
<path d="M574.8,67.5 C581.415,67.5 587.085,70.7 593.7,70.7" fill="none" stroke="#000" stroke-width="0.95"/>
<path d="M625.50,70.70 C623.75,70.82 618.42,70.80 615.00,71.40 C611.58,72.00 608.55,72.97 605.00,74.30 C601.45,75.63 597.20,77.48 593.70,79.40 C590.20,81.32 587.15,83.62 584.00,85.80 C580.85,87.98 577.80,90.58 574.80,92.50 C571.80,94.42 569.13,95.93 566.00,97.30 C562.87,98.67 559.50,99.72 556.00,100.70 C552.50,101.68 549.00,102.32 545.00,103.20 C541.00,104.08 536.00,105.42 532.00,106.00 C528.00,106.58 522.83,106.58 521.00,106.70" fill="none" stroke="#000" stroke-width="0.95"/>
<path d="M625.50,67.50 C631.25,67.47 650.92,67.40 660.00,67.30 C669.08,67.20 674.45,67.00 680.00,66.90 C685.55,66.80 691.08,66.73 693.30,66.70" fill="none" stroke="#000" stroke-width="0.95"/>
<path d="M625.50,70.70 C631.72,70.70 655.05,70.48 662.80,70.70 C670.55,70.92 668.80,71.32 672.00,72.00 C675.20,72.68 678.45,74.10 682.00,74.80 C685.55,75.50 691.42,75.97 693.30,76.20" fill="none" stroke="#000" stroke-width="0.95"/>
<path d="M642.7,70.7 C646.2,70.7 649.2,67.5 652.7,67.5" fill="none" stroke="#000" stroke-width="0.95"/>
<line x1="693.3" y1="66.8" x2="762.4" y2="67.4" stroke="#000" stroke-width="0.95"/>
<line x1="693.3" y1="76.2" x2="762.4" y2="76.2" stroke="#777" stroke-width="1.1"/>
<rect x="696.7" y="69" width="22.0" height="6.3" fill="none" stroke="#000" stroke-width="1.0"/>
<line x1="696.7" y1="68.8" x2="718.7" y2="68.8" stroke="#000" stroke-width="1.6"/>
<rect x="722.62" y="78.10" width="10.37" height="5.10" fill="#fff" stroke="#000" stroke-width="1"/>
<rect x="724.10" y="79.88" width="1.48" height="2.29" fill="#fff" stroke="#000" stroke-width="0.7"/>
<rect x="727.06" y="79.88" width="1.48" height="2.29" fill="#fff" stroke="#000" stroke-width="0.7"/>
<rect x="730.02" y="79.88" width="1.48" height="2.29" fill="#fff" stroke="#000" stroke-width="0.7"/>
<polygon points="720.60,83.50 735.00,83.50 732.41,86.60 723.19,86.60" fill="#bbb" stroke="#000" stroke-width="0.6"/>
<line x1="762.4" y1="67.5" x2="830.5" y2="67.5" stroke="#000" stroke-width="0.95"/>
<path d="M762.40,76.20 C763.67,76.07 767.07,75.98 770.00,75.40 C772.93,74.82 776.25,73.45 780.00,72.70 C783.75,71.95 789.17,71.23 792.50,70.90 C795.83,70.57 793.67,70.73 800.00,70.70 C806.33,70.67 825.42,70.70 830.50,70.70" fill="none" stroke="#000" stroke-width="0.95"/>
<path d="M790,67.5 C798.365,67.5 805.535,70.7 813.9,70.7" fill="none" stroke="#000" stroke-width="0.95"/>
<line x1="830.5" y1="67.5" x2="844" y2="67.5" stroke="#000" stroke-width="0.95"/>
<line x1="844" y1="67.5" x2="1034.5" y2="67.5" stroke="#888" stroke-width="1.0"/>
<line x1="830.5" y1="70.7" x2="1103" y2="70.7" stroke="#000" stroke-width="0.95"/>
<line x1="830.5" y1="73.6" x2="1034.5" y2="73.6" stroke="#666" stroke-width="0.9"/>
<line x1="830.5" y1="76.3" x2="898.4" y2="76.3" stroke="#888" stroke-width="0.9"/>
<line x1="844" y1="67.5" x2="898" y2="76.6" stroke="#000" stroke-width="0.9"/>
<rect x="831.9" y="78.5" width="64.5" height="19.0" fill="none" stroke="#000" stroke-width="1.5"/>
<line x1="832" y1="95.8" x2="896" y2="95.8" stroke="#777" stroke-width="0.8"/>
<line x1="830.8" y1="99.6" x2="898.4" y2="99.6" stroke="#777" stroke-width="1.0"/>
<rect x="857.6" y="100.7" width="25.0" height="4.8" fill="none" stroke="#000" stroke-width="1.0"/>
<line x1="898.4" y1="73.5" x2="1034.5" y2="73.5" stroke="#000" stroke-width="0.8"/>
<line x1="898.4" y1="76.1" x2="1000" y2="76.1" stroke="#555" stroke-width="0.8"/>
<path d="M936.5,73.5 C945.285,73.5 952.815,76.1 961.6,76.1" fill="none" stroke="#000" stroke-width="0.95"/>
<path d="M936.5,76.1 C945.285,76.1 952.815,73.5 961.6,73.5" fill="none" stroke="#000" stroke-width="0.95"/>
<path d="M898.50,76.40 C900.08,76.53 904.75,76.77 908.00,77.20 C911.25,77.63 914.93,78.52 918.00,79.00 C921.07,79.48 921.75,79.85 926.40,80.10 C931.05,80.35 942.65,80.43 945.90,80.50" fill="none" stroke="#000" stroke-width="0.95"/>
<rect x="945.9" y="79.5" width="15.1" height="2.2" fill="#000"/>
<rect x="927.4" y="82" width="16.4" height="6.7" fill="none" stroke="#000" stroke-width="0.9"/>
<line x1="927.4" y1="88.7" x2="943.8" y2="88.7" stroke="#777" stroke-width="1.2"/>
<path d="M901.30,99.60 C903.58,99.27 908.50,98.75 915.00,97.60 C921.50,96.45 933.63,94.55 940.30,92.70 C946.97,90.85 950.57,88.48 955.00,86.50 C959.43,84.52 963.07,82.28 966.90,80.80 C970.73,79.32 974.07,78.35 978.00,77.60 C981.93,76.85 986.33,76.40 990.50,76.30 C994.67,76.20 998.82,76.18 1003.00,77.00 C1007.18,77.82 1011.82,78.58 1015.60,81.20 C1019.38,83.82 1023.30,89.07 1025.70,92.70 C1028.10,96.33 1028.85,99.37 1030.00,103.00 C1031.15,106.63 1032.17,112.58 1032.60,114.50" fill="none" stroke="#000" stroke-width="0.95"/>
<path d="M993.00,76.30 C995.17,76.38 1001.83,76.15 1006.00,76.80 C1010.17,77.45 1014.33,77.92 1018.00,80.20 C1021.67,82.48 1025.67,87.03 1028.00,90.50 C1030.33,93.97 1030.95,97.00 1032.00,101.00 C1033.05,105.00 1033.92,112.25 1034.30,114.50" fill="none" stroke="#000" stroke-width="0.95"/>
<line x1="993" y1="76.3" x2="1034.5" y2="85.2" stroke="#000" stroke-width="0.8"/>
<path d="M917.60,99.60 C919.67,99.33 926.27,98.55 930.00,98.00 C933.73,97.45 936.83,96.75 940.00,96.30 C943.17,95.85 947.50,95.47 949.00,95.30" fill="none" stroke="#000" stroke-width="0.95"/>
<rect x="948.6" y="94.4" width="18.0" height="3.1" fill="none" stroke="#000" stroke-width="0.9"/>
<line x1="948.6" y1="94.6" x2="966.6" y2="94.6" stroke="#000" stroke-width="1.8"/>
<line x1="966.9" y1="95.8" x2="1021.9" y2="95.8" stroke="#000" stroke-width="0.9"/>
<line x1="898.4" y1="97.2" x2="830.8" y2="97.2" stroke="#777" stroke-width="0.5"/>
<line x1="898.4" y1="99.6" x2="942" y2="99.6" stroke="#000" stroke-width="0.8"/>
<rect x="898.9" y="101.5" width="11.6" height="8.1" fill="none" stroke="#000" stroke-width="1.0"/>
<rect x="936.5" y="101.5" width="15.1" height="6.3" fill="none" stroke="#666" stroke-width="0.9"/>
<line x1="936.5" y1="101" x2="951.6" y2="101" stroke="#777" stroke-width="1.6"/>
<rect x="953.4" y="101.5" width="12.4" height="6.0" fill="none" stroke="#000" stroke-width="1.0"/>
<rect x="967.6" y="101.5" width="12.2" height="6.0" fill="none" stroke="#000" stroke-width="1.0"/>
<rect x="979.8" y="101.5" width="12.0" height="6.0" fill="none" stroke="#000" stroke-width="1.0"/>
<rect x="980.5" y="107.5" width="5.0" height="3.0" fill="none" stroke="#000" stroke-width="0.9"/>
<polyline points="1000.6,115.6 1000.6,85.2 1016.9,85.2" fill="none" stroke="#000" stroke-width="0.9"/>
<line x1="1000.6" y1="99.6" x2="1023" y2="99.6" stroke="#777" stroke-width="1.1"/>
<line x1="1000.6" y1="101.4" x2="1028" y2="101.4" stroke="#000" stroke-width="0.9"/>
<g transform="rotate(-27 973.5 81.5)"><rect x="967.5" y="79.7" width="12" height="3.6" rx="1.2" fill="#fff" stroke="#000" stroke-width="0.8"/><circle cx="971" cy="81.5" r="1" fill="none" stroke="#000" stroke-width="0.5"/><circle cx="975.5" cy="81.5" r="1" fill="none" stroke="#000" stroke-width="0.5"/></g>
<circle cx="1040.8" cy="97.1" r="4.8" fill="none" stroke="#000" stroke-width="0.8"/>
<circle cx="1040.8" cy="108.4" r="4.8" fill="none" stroke="#000" stroke-width="0.8"/>
<circle cx="1050.6" cy="98.3" r="0.9" fill="none" stroke="#000" stroke-width="0.6"/>
<circle cx="1055.6" cy="98.3" r="0.9" fill="none" stroke="#000" stroke-width="0.6"/>
<circle cx="1050.6" cy="102.7" r="0.9" fill="none" stroke="#000" stroke-width="0.6"/>
<circle cx="1055.6" cy="102.7" r="0.9" fill="none" stroke="#000" stroke-width="0.6"/>
<circle cx="1050.6" cy="109.3" r="0.9" fill="none" stroke="#000" stroke-width="0.6"/>
<circle cx="1055.6" cy="108.4" r="0.9" fill="none" stroke="#000" stroke-width="0.6"/>
<line x1="1034.5" y1="67.5" x2="1103" y2="67.5" stroke="#000" stroke-width="0.95"/>
<path d="M1043,70.7 C1048.95,70.7 1054.05,67.5 1060,67.5" fill="none" stroke="#000" stroke-width="0.95"/>
<path d="M1060,67.5 C1068.75,67.5 1076.25,70.7 1085,70.7" fill="none" stroke="#000" stroke-width="0.95"/>
<line x1="1040" y1="73.3" x2="1054" y2="73.3" stroke="#000" stroke-width="1.3"/>
<path d="M1054,73.3 C1058.2,73.3 1061.8,70.7 1066,70.7" fill="none" stroke="#000" stroke-width="0.95"/>
<line x1="1034.5" y1="73.5" x2="1040" y2="73.3" stroke="#000" stroke-width="0.8"/>
<line x1="1034.8" y1="82.7" x2="1078" y2="82.7" stroke="#000" stroke-width="0.8"/>
<path d="M1078.00,82.70 C1079.33,83.00 1083.67,83.53 1086.00,84.50 C1088.33,85.47 1090.17,87.00 1092.00,88.50 C1093.83,90.00 1096.17,92.67 1097.00,93.50" fill="none" stroke="#000" stroke-width="0.95"/>
<path d="M1048.00,73.30 C1051.00,73.35 1060.67,73.15 1066.00,73.60 C1071.33,74.05 1076.00,74.85 1080.00,76.00 C1084.00,77.15 1087.17,78.75 1090.00,80.50 C1092.83,82.25 1095.83,85.50 1097.00,86.50" fill="none" stroke="#000" stroke-width="0.95"/>
<path d="M1060.00,73.30 C1063.33,73.38 1074.33,73.27 1080.00,73.80 C1085.67,74.33 1090.25,75.50 1094.00,76.50 C1097.75,77.50 1101.08,79.25 1102.50,79.80" fill="none" stroke="#000" stroke-width="0.95"/>
<line x1="1034.5" y1="82.2" x2="1079.6" y2="102.2" stroke="#000" stroke-width="0.8"/>
<line x1="1052" y1="94" x2="1078" y2="103.6" stroke="#000" stroke-width="0.8"/>
<polyline points="1053.5,93 1063.5,96.6 1059.5,106.5" fill="none" stroke="#000" stroke-width="0.8"/>
<g transform="rotate(40 1094 90)"><rect x="1086" y="87" width="16" height="3" fill="none" stroke="#000" stroke-width="0.7"/><rect x="1091" y="83.6" width="8" height="2.6" fill="none" stroke="#000" stroke-width="0.7"/></g>
<rect x="1088.60" y="55.00" width="10.80" height="4.56" fill="#fff" stroke="#000" stroke-width="1"/>
<rect x="1090.14" y="56.60" width="1.54" height="2.05" fill="#fff" stroke="#000" stroke-width="0.7"/>
<rect x="1093.23" y="56.60" width="1.54" height="2.05" fill="#fff" stroke="#000" stroke-width="0.7"/>
<rect x="1096.31" y="56.60" width="1.54" height="2.05" fill="#fff" stroke="#000" stroke-width="0.7"/>
<polygon points="1086.50,59.86 1101.50,59.86 1098.80,62.60 1089.20,62.60" fill="#bbb" stroke="#000" stroke-width="0.6"/>
<line x1="1103" y1="67.5" x2="1277.5" y2="67.5" stroke="#000" stroke-width="0.95"/>
<line x1="1103" y1="70.7" x2="1277.5" y2="70.7" stroke="#000" stroke-width="0.95"/>
<path d="M1118,67.5 C1121.5,67.5 1124.5,70.7 1128,70.7" fill="none" stroke="#000" stroke-width="0.95"/>
<path d="M1184.5,70.7 C1188.0349999999999,70.7 1191.065,67.5 1194.6,67.5" fill="none" stroke="#000" stroke-width="0.95"/>
<path d="M1110.4,70.7 A44,44.5 0 0 1 1154.4,115.2 L1154.4,190.4" fill="none" stroke="#000" stroke-width="0.8"/>
<path d="M1202.1,70.7 A44.6,44.5 0 0 0 1157.5,115.2 L1157.5,190.4" fill="none" stroke="#000" stroke-width="0.8"/>
<rect x="1150.80" y="72.00" width="10.80" height="5.16" fill="#fff" stroke="#000" stroke-width="1"/>
<rect x="1152.34" y="73.81" width="1.54" height="2.32" fill="#fff" stroke="#000" stroke-width="0.7"/>
<rect x="1155.43" y="73.81" width="1.54" height="2.32" fill="#fff" stroke="#000" stroke-width="0.7"/>
<rect x="1158.51" y="73.81" width="1.54" height="2.32" fill="#fff" stroke="#000" stroke-width="0.7"/>
<polygon points="1148.70,77.46 1163.70,77.46 1161.00,80.60 1151.40,80.60" fill="#bbb" stroke="#000" stroke-width="0.6"/>
<line x1="1209.4" y1="67.5" x2="1277.5" y2="67.5" stroke="#bbb" stroke-width="1.6"/>
<line x1="1209.4" y1="67.5" x2="1277.5" y2="67.5" stroke="#000" stroke-width="0.5"/>
<path d="M1215.30,98.40 C1216.08,97.00 1217.88,92.73 1220.00,90.00 C1222.12,87.27 1224.67,84.42 1228.00,82.00 C1231.33,79.58 1236.00,77.17 1240.00,75.50 C1244.00,73.83 1248.33,72.80 1252.00,72.00 C1255.67,71.20 1260.33,70.92 1262.00,70.70" fill="none" stroke="#000" stroke-width="0.95"/>
<path d="M1222.60,98.40 C1223.33,97.17 1224.93,93.57 1227.00,91.00 C1229.07,88.43 1231.83,85.42 1235.00,83.00 C1238.17,80.58 1242.17,78.42 1246.00,76.50 C1249.83,74.58 1253.67,73.00 1258.00,71.50 C1262.33,70.00 1269.67,68.17 1272.00,67.50" fill="none" stroke="#000" stroke-width="0.95"/>
<path d="M1227.90,98.40 C1228.58,97.25 1229.98,93.98 1232.00,91.50 C1234.02,89.02 1236.83,85.92 1240.00,83.50 C1243.17,81.08 1247.17,78.87 1251.00,77.00 C1254.83,75.13 1258.67,73.35 1263.00,72.30 C1267.33,71.25 1274.67,70.97 1277.00,70.70" fill="none" stroke="#000" stroke-width="0.95"/>
<path d="M1277.5,67.5 L1286.7,67.5 A45.8,45.8 0 0 1 1332.5,113.3 L1332.5,190.3" fill="none" stroke="#000" stroke-width="0.8"/>
<path d="M1277.5,70.7 L1286.7,70.7 A42.7,42.7 0 0 1 1329.5,113.4 L1329.5,190.3" fill="none" stroke="#000" stroke-width="0.8"/>
<path d="M1332.50,190.30 C1332.50,192.55 1332.67,200.50 1332.50,203.80 C1332.33,207.10 1332.18,207.37 1331.50,210.10 C1330.82,212.83 1330.07,216.22 1328.40,220.20 C1326.73,224.18 1324.33,229.60 1321.50,234.00 C1318.67,238.40 1314.75,243.02 1311.40,246.60 C1308.05,250.18 1304.97,253.30 1301.40,255.50 C1297.83,257.70 1293.57,258.82 1290.00,259.80 C1286.43,260.78 1284.17,260.98 1280.00,261.40 C1275.83,261.82 1267.50,262.15 1265.00,262.30" fill="none" stroke="#000" stroke-width="0.95"/>
<path d="M1329.50,190.30 C1329.50,192.55 1329.62,200.52 1329.50,203.80 C1329.38,207.08 1329.33,207.27 1328.80,210.00 C1328.27,212.73 1327.95,216.20 1326.30,220.20 C1324.65,224.20 1321.80,229.82 1318.90,234.00 C1316.00,238.18 1311.82,242.55 1308.90,245.30 C1305.98,248.05 1304.55,248.80 1301.40,250.50 C1298.25,252.20 1293.57,254.22 1290.00,255.50 C1286.43,256.78 1284.17,257.55 1280.00,258.20 C1275.83,258.85 1267.50,259.20 1265.00,259.40" fill="none" stroke="#000" stroke-width="0.95"/>
<line x1="1226.4" y1="259.4" x2="1265" y2="259.4" stroke="#000" stroke-width="0.95"/>
<line x1="1226.4" y1="262.3" x2="1265" y2="262.3" stroke="#000" stroke-width="0.95"/>
<rect x="1251.68" y="249.10" width="11.74" height="4.68" fill="#fff" stroke="#000" stroke-width="1"/>
<rect x="1253.36" y="250.74" width="1.68" height="2.11" fill="#fff" stroke="#000" stroke-width="0.7"/>
<rect x="1256.71" y="250.74" width="1.68" height="2.11" fill="#fff" stroke="#000" stroke-width="0.7"/>
<rect x="1260.06" y="250.74" width="1.68" height="2.11" fill="#fff" stroke="#000" stroke-width="0.7"/>
<polygon points="1249.40,254.08 1265.70,254.08 1262.77,256.90 1252.33,256.90" fill="#bbb" stroke="#000" stroke-width="0.6"/>
<path d="M1151.4,190.3 L1151.4,203.6 A61.6,61.6 0 0 0 1213,265.2 L1226.4,265.2" fill="none" stroke="#000" stroke-width="1.0"/>
<path d="M1154.5,190.3 L1154.5,203.6 A58.5,58.5 0 0 0 1213,262.1 L1226.4,262.1" fill="none" stroke="#000" stroke-width="0.95"/>
<path d="M1157.4,190.3 L1157.4,203.6 A55.6,55.6 0 0 0 1213,259.2 L1226.4,259.2" fill="none" stroke="#000" stroke-width="0.95"/>
<path d="M1161.5,190.3 L1161.5,203.6 A51.5,51.5 0 0 0 1213,255.1 L1226.4,255.1" fill="none" stroke="#000" stroke-width="1.0"/>
<line x1="1160.8" y1="152.7" x2="1160.8" y2="190.4" stroke="#000" stroke-width="0.95"/>
<line x1="1164.6" y1="170.3" x2="1164.6" y2="190.4" stroke="#000" stroke-width="0.95"/>
<path d="M1157.40,126.00 C1157.58,128.33 1157.82,135.17 1158.50,140.00 C1159.18,144.83 1160.58,150.83 1161.50,155.00 C1162.42,159.17 1163.48,162.33 1164.00,165.00 C1164.52,167.67 1164.50,170.00 1164.60,171.00" fill="none" stroke="#000" stroke-width="0.95"/>
<path d="M1154.5,140 C1154.5,144.55 1157.4,148.45 1157.4,153" fill="none" stroke="#000" stroke-width="0.95"/>
<path d="M1157.4,141 C1157.4,145.55 1160.8,149.45 1160.8,154" fill="none" stroke="#000" stroke-width="0.95"/>
<line x1="93.4" y1="122.6" x2="93.4" y2="467.5" stroke="#000" stroke-width="0.95"/>
<line x1="96.5" y1="122.6" x2="96.5" y2="467.5" stroke="#000" stroke-width="0.95"/>
<line x1="99.6" y1="263.5" x2="99.6" y2="467.5" stroke="#000" stroke-width="0.9"/>
<line x1="90.3" y1="189.4" x2="97" y2="189.4" stroke="#000" stroke-width="1.0"/>
<path d="M93.40,132.00 C93.47,133.33 93.45,137.33 93.80,140.00 C94.15,142.67 94.87,145.25 95.50,148.00 C96.13,150.75 96.43,153.50 97.60,156.50 C98.77,159.50 100.42,163.00 102.50,166.00 C104.58,169.00 107.02,171.92 110.10,174.50 C113.18,177.08 116.80,179.38 121.00,181.50 C125.20,183.62 130.47,185.78 135.30,187.20 C140.13,188.62 144.98,189.30 150.00,190.00 C155.02,190.70 162.83,191.17 165.40,191.40" fill="none" stroke="#000" stroke-width="0.95"/>
<path d="M96.50,128.00 C96.67,129.50 97.00,133.83 97.50,137.00 C98.00,140.17 98.75,143.75 99.50,147.00 C100.25,150.25 100.67,153.25 102.00,156.50 C103.33,159.75 105.10,163.28 107.50,166.50 C109.90,169.72 113.07,173.13 116.40,175.80 C119.73,178.47 123.32,180.42 127.50,182.50 C131.68,184.58 137.25,186.83 141.50,188.30 C145.75,189.77 149.02,190.30 153.00,191.30 C156.98,192.30 163.33,193.80 165.40,194.30" fill="none" stroke="#000" stroke-width="0.95"/>
<path d="M93.4,128 C93.4,132.2 96.5,135.8 96.5,140" fill="none" stroke="#000" stroke-width="0.95"/>
<path d="M165.40,191.40 C163.73,191.55 159.63,191.70 155.40,192.30 C151.17,192.90 145.45,193.48 140.00,195.00 C134.55,196.52 127.45,199.10 122.70,201.40 C117.95,203.70 114.65,206.08 111.50,208.80 C108.35,211.52 105.97,214.50 103.80,217.70 C101.63,220.90 99.92,224.23 98.50,228.00 C97.08,231.77 96.08,236.63 95.30,240.30 C94.52,243.97 94.12,247.38 93.80,250.00 C93.48,252.62 93.47,255.00 93.40,256.00" fill="none" stroke="#000" stroke-width="0.95"/>
<path d="M165.40,194.30 C163.73,194.35 159.47,194.05 155.40,194.60 C151.33,195.15 145.82,196.20 141.00,197.60 C136.18,199.00 130.67,201.00 126.50,203.00 C122.33,205.00 118.93,207.15 116.00,209.60 C113.07,212.05 111.10,214.72 108.90,217.70 C106.70,220.68 104.48,224.20 102.80,227.50 C101.12,230.80 99.77,234.58 98.80,237.50 C97.83,240.42 97.38,242.75 97.00,245.00 C96.62,247.25 96.58,250.00 96.50,251.00" fill="none" stroke="#000" stroke-width="0.95"/>
<path d="M97.00,189.40 C98.33,189.23 101.77,188.67 105.00,188.40 C108.23,188.13 112.73,187.77 116.40,187.80 C120.07,187.83 123.85,188.23 127.00,188.60 C130.15,188.97 132.30,189.47 135.30,190.00 C138.30,190.53 142.08,191.23 145.00,191.80 C147.92,192.37 151.50,193.13 152.80,193.40" fill="none" stroke="#000" stroke-width="0.7"/>
<line x1="165.8" y1="191.4" x2="185" y2="191.4" stroke="#000" stroke-width="0.95"/>
<line x1="185" y1="191.4" x2="233.6" y2="191.4" stroke="#999" stroke-width="1.3"/>
<line x1="165.8" y1="194.3" x2="233.6" y2="194.3" stroke="#000" stroke-width="0.95"/>
<path d="M171.7,191.4 C176.53,191.4 180.67,194.3 185.5,194.3" fill="none" stroke="#000" stroke-width="0.95"/>
<path d="M171.70,194.30 C173.92,194.47 180.62,194.55 185.00,195.30 C189.38,196.05 194.58,197.30 198.00,198.80 C201.42,200.30 203.40,202.20 205.50,204.30 C207.60,206.40 209.27,209.37 210.60,211.40 C211.93,213.43 212.77,214.93 213.50,216.50 C214.23,218.07 214.75,220.08 215.00,220.80" fill="none" stroke="#000" stroke-width="0.95"/>
<path d="M181.00,194.30 C182.83,194.42 188.32,194.42 192.00,195.00 C195.68,195.58 200.02,196.42 203.10,197.80 C206.18,199.18 208.40,201.23 210.50,203.30 C212.60,205.37 214.37,208.17 215.70,210.20 C217.03,212.23 217.78,213.73 218.50,215.50 C219.22,217.27 219.75,219.92 220.00,220.80" fill="none" stroke="#000" stroke-width="0.95"/>
<path d="M185.50,191.40 C187.42,191.80 193.23,192.77 197.00,193.80 C200.77,194.83 204.93,196.15 208.10,197.60 C211.27,199.05 213.70,200.62 216.00,202.50 C218.30,204.38 220.32,206.82 221.90,208.90 C223.48,210.98 224.55,213.02 225.50,215.00 C226.45,216.98 227.25,219.83 227.60,220.80" fill="none" stroke="#000" stroke-width="0.95"/>
<line x1="233.6" y1="191.4" x2="301.5" y2="191.4" stroke="#555" stroke-width="0.9"/>
<line x1="233.6" y1="194.3" x2="301.5" y2="194.3" stroke="#000" stroke-width="0.95"/>
<path d="M244,191.4 C250.3,191.4 255.7,194.3 262,194.3" fill="none" stroke="#000" stroke-width="0.95"/>
<path d="M258,194.3 C265.7,194.3 272.3,191.4 280,191.4" fill="none" stroke="#000" stroke-width="0.95"/>
<path d="M250.00,194.30 C251.17,194.50 254.33,195.22 257.00,195.50 C259.67,195.78 263.17,196.05 266.00,196.00 C268.83,195.95 272.67,195.33 274.00,195.20" fill="none" stroke="#000" stroke-width="0.6"/>
<line x1="301.5" y1="191.4" x2="377.5" y2="191.4" stroke="#000" stroke-width="0.95"/>
<line x1="301.5" y1="194.3" x2="377.5" y2="194.3" stroke="#000" stroke-width="0.95"/>
<path d="M311.50,194.30 C313.25,194.45 318.85,194.65 322.00,195.20 C325.15,195.75 327.65,196.42 330.40,197.60 C333.15,198.78 335.98,200.42 338.50,202.30 C341.02,204.18 343.50,206.53 345.50,208.90 C347.50,211.27 349.05,213.77 350.50,216.50 C351.95,219.23 353.28,222.55 354.20,225.30 C355.12,228.05 355.62,230.50 356.00,233.00 C356.38,235.50 356.42,239.08 356.50,240.30" fill="none" stroke="#000" stroke-width="0.95"/>
<line x1="356.5" y1="240.3" x2="356.5" y2="263.2" stroke="#000" stroke-width="0.95"/>
<path d="M325.40,191.40 C327.00,191.67 332.07,192.17 335.00,193.00 C337.93,193.83 340.33,194.93 343.00,196.40 C345.67,197.87 348.50,199.72 351.00,201.80 C353.50,203.88 355.92,206.40 358.00,208.90 C360.08,211.40 361.93,214.07 363.50,216.80 C365.07,219.53 366.40,222.60 367.40,225.30 C368.40,228.00 368.98,230.50 369.50,233.00 C370.02,235.50 370.33,239.08 370.50,240.30" fill="none" stroke="#000" stroke-width="0.95"/>
<path d="M330.40,191.40 C331.83,191.63 336.28,192.03 339.00,192.80 C341.72,193.57 344.03,194.58 346.70,196.00 C349.37,197.42 352.48,199.35 355.00,201.30 C357.52,203.25 359.75,205.25 361.80,207.70 C363.85,210.15 365.73,213.07 367.30,216.00 C368.87,218.93 370.22,222.47 371.20,225.30 C372.18,228.13 372.73,230.50 373.20,233.00 C373.67,235.50 373.87,239.08 374.00,240.30" fill="none" stroke="#000" stroke-width="0.95"/>
<line x1="370.5" y1="240.3" x2="370.8" y2="467.2" stroke="#000" stroke-width="0.95"/>
<line x1="374" y1="240.3" x2="374.1" y2="467.2" stroke="#000" stroke-width="0.95"/>
<path d="M355.5,191.4 C362.08,191.4 367.72,194.3 374.3,194.3" fill="none" stroke="#000" stroke-width="0.95"/>
<text x="351.3" y="246.5" font-size="3.4" text-anchor="middle" transform="rotate(90 351.3 246.5)" stroke="#000" stroke-width="0.13">Smith &amp;amp; Pauls</text>
<text x="346.8" y="246.5" font-size="3.4" text-anchor="middle" transform="rotate(90 346.8 246.5)" stroke="#000" stroke-width="0.13">Aggregates</text>
<rect x="349.5" y="257.3" width="3.2" height="1.6" fill="#000"/>
<line x1="377.5" y1="191.5" x2="445.4" y2="191.5" stroke="#444" stroke-width="0.9"/>
<line x1="377.5" y1="194" x2="445.4" y2="194" stroke="#888" stroke-width="1.1"/>
<line x1="377.5" y1="187.3" x2="445.4" y2="187.3" stroke="#999" stroke-width="1.6"/>
<line x1="365.3" y1="287" x2="365.3" y2="467.2" stroke="#555" stroke-width="0.9"/>
<path d="M370.80,263.50 C370.67,264.58 370.55,267.58 370.00,270.00 C369.45,272.42 368.23,275.33 367.50,278.00 C366.77,280.67 365.97,283.67 365.60,286.00 C365.23,288.33 365.35,291.00 365.30,292.00" fill="none" stroke="#000" stroke-width="0.95"/>
<path d="M370.8,292 C370.8,300.4 374.1,307.6 374.1,316" fill="none" stroke="#000" stroke-width="0.95"/>
<line x1="346.7" y1="273.8" x2="346.7" y2="389" stroke="#666" stroke-width="0.8"/>
<line x1="349.4" y1="302.5" x2="349.4" y2="352.6" stroke="#000" stroke-width="1.2"/>
<line x1="352.5" y1="332.9" x2="352.5" y2="352.6" stroke="#000" stroke-width="0.9"/>
<line x1="343.3" y1="331.3" x2="377.6" y2="331.3" stroke="#444" stroke-width="0.9"/>
<line x1="367.8" y1="338.8" x2="367.8" y2="372.7" stroke="#000" stroke-width="0.9"/>
<path d="M367.80,372.70 C367.75,373.92 367.75,377.45 367.50,380.00 C367.25,382.55 366.67,385.45 366.30,388.00 C365.93,390.55 365.47,394.08 365.30,395.30" fill="none" stroke="#000" stroke-width="0.95"/>
<path d="M346.70,346.30 C347.00,347.75 347.62,351.05 348.50,355.00 C349.38,358.95 350.75,365.00 352.00,370.00 C353.25,375.00 354.75,380.00 356.00,385.00 C357.25,390.00 358.33,395.17 359.50,400.00 C360.67,404.83 361.92,409.00 363.00,414.00 C364.08,419.00 365.00,424.83 366.00,430.00 C367.00,435.17 368.23,440.75 369.00,445.00 C369.77,449.25 370.33,453.75 370.60,455.50" fill="none" stroke="#000" stroke-width="0.95"/>
<path d="M349.40,352.60 C349.67,353.83 350.15,356.27 351.00,360.00 C351.85,363.73 353.37,370.17 354.50,375.00 C355.63,379.83 357.25,386.67 357.80,389.00" fill="none" stroke="#000" stroke-width="0.95"/>
<path d="M352.50,352.60 C352.67,353.83 352.92,356.77 353.50,360.00 C354.08,363.23 355.25,368.17 356.00,372.00 C356.75,375.83 357.63,379.67 358.00,383.00 C358.37,386.33 358.17,390.50 358.20,392.00" fill="none" stroke="#000" stroke-width="0.95"/>
<path d="M374.1,417 C374.1,424.0 370.8,430.0 370.8,437" fill="none" stroke="#000" stroke-width="0.95"/>
<path d="M370.80,467.30 C370.72,468.75 370.52,473.25 370.30,476.00 C370.08,478.75 370.13,480.63 369.50,483.80 C368.87,486.97 367.97,491.22 366.50,495.00 C365.03,498.78 362.87,503.00 360.70,506.50 C358.53,510.00 356.23,513.08 353.50,516.00 C350.77,518.92 347.38,521.67 344.30,524.00 C341.22,526.33 338.13,528.32 335.00,530.00 C331.87,531.68 329.17,533.00 325.50,534.10 C321.83,535.20 315.08,536.18 313.00,536.60" fill="none" stroke="#000" stroke-width="0.95"/>
<path d="M374.10,467.30 C374.18,469.08 374.32,474.62 374.60,478.00 C374.88,481.38 375.02,484.35 375.80,487.60 C376.58,490.85 377.85,494.35 379.30,497.50 C380.75,500.65 382.38,503.42 384.50,506.50 C386.62,509.58 389.27,513.08 392.00,516.00 C394.73,518.92 397.73,521.50 400.90,524.00 C404.07,526.50 407.48,529.17 411.00,531.00 C414.52,532.83 418.17,534.10 422.00,535.00 C425.83,535.90 432.00,536.17 434.00,536.40" fill="none" stroke="#000" stroke-width="0.95"/>
<circle cx="111.1" cy="275" r="8.7" fill="none" stroke="#000" stroke-width="0.9"/>
<line x1="122.6" y1="264.1" x2="106.2" y2="283" stroke="#000" stroke-width="0.9"/>
<path d="M106.20,283.00 C105.67,284.00 103.90,287.17 103.00,289.00 C102.10,290.83 101.37,292.42 100.80,294.00 C100.23,295.58 99.80,297.75 99.60,298.50" fill="none" stroke="#000" stroke-width="0.95"/>
<line x1="100.5" y1="264.1" x2="104.6" y2="268.8" stroke="#000" stroke-width="0.8"/>
<path d="M93.4,276.8 C93.4,284.395 99.6,290.90500000000003 99.6,298.5" fill="none" stroke="#000" stroke-width="0.95"/>
<path d="M109.00,283.80 C108.72,284.83 107.75,287.70 107.30,290.00 C106.85,292.30 106.48,295.10 106.30,297.60 C106.12,300.10 106.22,303.77 106.20,305.00" fill="none" stroke="#000" stroke-width="0.95"/>
<line x1="106.2" y1="305" x2="106.2" y2="314.5" stroke="#000" stroke-width="0.95"/>
<line x1="110.9" y1="283.8" x2="110.9" y2="330.3" stroke="#888" stroke-width="1.3"/>
<path d="M113.80,283.50 C114.08,284.42 115.07,286.97 115.50,289.00 C115.93,291.03 116.23,293.87 116.40,295.70 C116.57,297.53 116.48,299.28 116.50,300.00" fill="none" stroke="#000" stroke-width="0.95"/>
<line x1="116.5" y1="300" x2="116.5" y2="323.2" stroke="#777" stroke-width="0.9"/>
<path d="M116.50,283.00 C116.92,283.83 118.38,285.88 119.00,288.00 C119.62,290.12 119.98,293.37 120.20,295.70 C120.42,298.03 120.28,300.95 120.30,302.00" fill="none" stroke="#000" stroke-width="0.95"/>
<line x1="120.3" y1="302" x2="120.3" y2="412.8" stroke="#666" stroke-width="0.9"/>
<g transform="rotate(90 105.2 320.6)">
<rect x="99.94" y="316.80" width="10.51" height="4.56" fill="#fff" stroke="#000" stroke-width="1"/>
<rect x="101.45" y="318.40" width="1.50" height="2.05" fill="#fff" stroke="#000" stroke-width="0.7"/>
<rect x="104.45" y="318.40" width="1.50" height="2.05" fill="#fff" stroke="#000" stroke-width="0.7"/>
<rect x="107.45" y="318.40" width="1.50" height="2.05" fill="#fff" stroke="#000" stroke-width="0.7"/>
<polygon points="97.90,321.66 112.50,321.66 109.87,324.40 100.53,324.40" fill="#bbb" stroke="#000" stroke-width="0.6"/>
</g>
<path d="M113.70,332.10 C114.00,333.08 114.78,335.68 115.50,338.00 C116.22,340.32 117.28,343.50 118.00,346.00 C118.72,348.50 119.42,351.00 119.80,353.00 C120.18,355.00 120.22,357.17 120.30,358.00" fill="none" stroke="#000" stroke-width="0.9"/>
<line x1="102.4" y1="399.3" x2="102.4" y2="413.3" stroke="#000" stroke-width="0.9"/>
<path d="M99.60,406.50 C99.72,407.58 100.00,411.25 100.30,413.00 C100.60,414.75 100.95,415.17 101.40,417.00 C101.85,418.83 102.37,421.80 103.00,424.00 C103.63,426.20 104.37,427.87 105.20,430.20 C106.03,432.53 106.90,435.37 108.00,438.00 C109.10,440.63 110.30,443.25 111.80,446.00 C113.30,448.75 114.83,451.70 117.00,454.50 C119.17,457.30 123.50,461.42 124.80,462.80" fill="none" stroke="#000" stroke-width="0.95"/>
<path d="M99.6,416 C99.6,427.2 94.6,436.8 94.6,448" fill="none" stroke="#000" stroke-width="0.95"/>
<path d="M96.5,435 C96.5,442.0 93.4,448.0 93.4,455" fill="none" stroke="#000" stroke-width="0.95"/>
<path d="M93.40,467.50 C93.57,470.22 93.70,478.77 94.40,483.80 C95.10,488.83 96.03,493.30 97.60,497.70 C99.17,502.10 101.08,506.23 103.80,510.20 C106.52,514.17 110.12,518.15 113.90,521.50 C117.68,524.85 122.32,527.88 126.50,530.30 C130.68,532.72 135.03,534.60 139.00,536.00 C142.97,537.40 145.90,538.13 150.30,538.70 C154.70,539.27 162.88,539.28 165.40,539.40" fill="none" stroke="#000" stroke-width="0.95"/>
<path d="M96.50,467.50 C96.62,470.22 96.50,478.77 97.20,483.80 C97.90,488.83 99.07,493.50 100.70,497.70 C102.33,501.90 104.38,505.45 107.00,509.00 C109.62,512.55 112.73,515.87 116.40,519.00 C120.07,522.13 124.82,525.38 129.00,527.80 C133.18,530.22 137.53,532.12 141.50,533.50 C145.47,534.88 148.82,535.60 152.80,536.10 C156.78,536.60 163.30,536.43 165.40,536.50" fill="none" stroke="#000" stroke-width="0.95"/>
<line x1="165.4" y1="536.5" x2="510.3" y2="536.5" stroke="#000" stroke-width="0.95"/>
<line x1="165.4" y1="539.4" x2="510.3" y2="539.4" stroke="#000" stroke-width="0.95"/>
<rect x="168.5" y="508.7" width="59.5" height="3.0" fill="none" stroke="#000" stroke-width="0.8"/>
<rect x="170.2" y="512.1" width="1.7" height="11.3" fill="#000"/>
<rect x="176.7" y="512.1" width="1.7" height="11.3" fill="#000"/>
<rect x="180.7" y="512.1" width="1.7" height="11.3" fill="#000"/>
<rect x="183.5" y="512.1" width="1.7" height="11.3" fill="#000"/>
<rect x="186.3" y="512.1" width="1.7" height="11.3" fill="#000"/>
<rect x="193.3" y="512.1" width="1.7" height="11.3" fill="#000"/>
<rect x="173" y="512.1" width="2.4" height="11.3" fill="#fff" stroke="#000" stroke-width="0.8"/>
<rect x="173.5" y="521" width="1.4" height="1.6" fill="#fff" stroke="#000" stroke-width="0.5"/>
<rect x="190.6" y="512.1" width="2.4" height="11.3" fill="#fff" stroke="#000" stroke-width="0.8"/>
<rect x="191.1" y="521" width="1.4" height="1.6" fill="#fff" stroke="#000" stroke-width="0.5"/>
<path d="M180.50,536.50 C182.08,536.25 186.75,536.00 190.00,535.00 C193.25,534.00 196.67,532.17 200.00,530.50 C203.33,528.83 206.55,526.65 210.00,525.00 C213.45,523.35 217.70,521.55 220.70,520.60 C223.70,519.65 225.85,519.55 228.00,519.30 C230.15,519.05 232.67,519.13 233.60,519.10" fill="none" stroke="#000" stroke-width="0.95"/>
<path d="M185.00,536.50 C186.83,536.12 192.67,535.03 196.00,534.20 C199.33,533.37 202.00,532.15 205.00,531.50 C208.00,530.85 209.23,530.53 214.00,530.30 C218.77,530.07 230.33,530.13 233.60,530.10" fill="none" stroke="#000" stroke-width="0.95"/>
<rect x="222.2" y="524" width="7.5" height="3.6" fill="none" stroke="#000" stroke-width="0.9"/>
<line x1="233.6" y1="519.4" x2="301.5" y2="519.4" stroke="#888" stroke-width="1.0"/>
<line x1="233.6" y1="522.8" x2="301.5" y2="522.8" stroke="#888" stroke-width="1.0"/>
<line x1="233.6" y1="530.2" x2="301.5" y2="530.2" stroke="#555" stroke-width="0.9"/>
<rect x="236.9" y="510.5" width="7.9" height="6.3" fill="#000"/>
<rect x="237.70000000000002" y="512.1" width="6.3" height="0.7" fill="#fff"/>
<rect x="237.70000000000002" y="514.3" width="6.3" height="0.9" fill="#fff"/>
<rect x="246.4" y="510.5" width="7.5" height="6.3" fill="#000"/>
<rect x="247.20000000000002" y="512.1" width="5.9" height="0.7" fill="#fff"/>
<rect x="247.20000000000002" y="514.3" width="5.9" height="0.9" fill="#fff"/>
<rect x="256.4" y="510.5" width="6.9" height="6.3" fill="#000"/>
<rect x="257.2" y="512.1" width="5.3" height="0.7" fill="#fff"/>
<rect x="257.2" y="514.3" width="5.3" height="0.9" fill="#fff"/>
<rect x="266.5" y="510.5" width="7.5" height="6.3" fill="#000"/>
<rect x="267.3" y="512.1" width="5.9" height="0.7" fill="#fff"/>
<rect x="267.3" y="514.3" width="5.9" height="0.9" fill="#fff"/>
<rect x="275.3" y="510.5" width="7.7" height="6.3" fill="#000"/>
<rect x="276.1" y="512.1" width="6.1" height="0.7" fill="#fff"/>
<rect x="276.1" y="514.3" width="6.1" height="0.9" fill="#fff"/>
<rect x="285.3" y="510.5" width="7.5" height="6.3" fill="#000"/>
<rect x="286.1" y="512.1" width="5.9" height="0.7" fill="#fff"/>
<rect x="286.1" y="514.3" width="5.9" height="0.9" fill="#fff"/>
<rect x="242" y="524.3" width="16.9" height="3.3" fill="none" stroke="#000" stroke-width="0.9"/>
<rect x="242" y="525.2" width="7.5" height="1.6" fill="#000"/>
<rect x="275.3" y="524.3" width="7.2" height="3.3" fill="none" stroke="#000" stroke-width="0.9"/>
<rect x="284.7" y="524.3" width="6.9" height="3.3" fill="none" stroke="#000" stroke-width="0.9"/>
<line x1="263.3" y1="518.4" x2="263.3" y2="532.2" stroke="#000" stroke-width="0.9"/>
<line x1="261.6" y1="518.6" x2="265" y2="518.6" stroke="#000" stroke-width="0.9"/>
<line x1="261.6" y1="531" x2="265" y2="531" stroke="#000" stroke-width="0.9"/>
<path d="M269,539.4 C274.25,539.4 278.75,536.5 284,536.5" fill="none" stroke="#000" stroke-width="0.95"/>
<polygon points="303.9,514.6 310.4,509.6 319.5,518.4 314,524" fill="none" stroke="#000" stroke-width="0.8"/>
<text x="333" y="512.8" font-size="3.2" text-anchor="middle" font-weight="bold" stroke="#000" stroke-width="0.13">Utter</text>
<text x="333" y="516.6" font-size="3.2" text-anchor="middle" font-weight="bold" stroke="#000" stroke-width="0.13">Industries</text>
<path d="M318,536.5 C324.16,536.5 329.44,539.4 335.6,539.4" fill="none" stroke="#000" stroke-width="0.95"/>
<rect x="366.95" y="526.60" width="10.01" height="4.32" fill="#fff" stroke="#000" stroke-width="1"/>
<rect x="368.38" y="528.11" width="1.43" height="1.94" fill="#fff" stroke="#000" stroke-width="0.7"/>
<rect x="371.24" y="528.11" width="1.43" height="1.94" fill="#fff" stroke="#000" stroke-width="0.7"/>
<rect x="374.09" y="528.11" width="1.43" height="1.94" fill="#fff" stroke="#000" stroke-width="0.7"/>
<polygon points="365.00,531.22 378.90,531.22 376.40,533.80 367.50,533.80" fill="#bbb" stroke="#000" stroke-width="0.6"/>
<path d="M406,536.5 C412.3,536.5 417.7,539.4 424,539.4" fill="none" stroke="#000" stroke-width="0.95"/>
<path d="M461.6,539.4 C469.09000000000003,539.4 475.51,536.5 483,536.5" fill="none" stroke="#000" stroke-width="0.95"/>
<line x1="511.8" y1="515.7" x2="561.7" y2="515.7" stroke="#000" stroke-width="1.0"/>
<line x1="511.8" y1="518.65" x2="561.7" y2="518.65" stroke="#000" stroke-width="1.0"/>
<line x1="511.8" y1="527.5" x2="561.7" y2="527.5" stroke="#888" stroke-width="1.1"/>
<line x1="511.8" y1="530.45" x2="536" y2="530.45" stroke="#000" stroke-width="1.0"/>
<line x1="510.3" y1="536.35" x2="561.7" y2="536.35" stroke="#000" stroke-width="1.0"/>
<line x1="510.3" y1="539.3" x2="561.7" y2="539.3" stroke="#000" stroke-width="1.0"/>
<line x1="511.8" y1="533.4" x2="561.7" y2="533.4" stroke="#000" stroke-width="1.0"/>
<line x1="513.7" y1="542.25" x2="561.7" y2="542.25" stroke="#000" stroke-width="1.0"/>
<line x1="516.9" y1="545.2" x2="561.7" y2="545.2" stroke="#000" stroke-width="1.0"/>
<line x1="520" y1="548.15" x2="561.7" y2="548.15" stroke="#888" stroke-width="1.1"/>
<path d="M533.2,530.45 C541.985,530.45 549.515,527.5 558.3,527.5" fill="none" stroke="#000" stroke-width="0.95"/>
<line x1="558.3" y1="527.5" x2="561.7" y2="527.5" stroke="#000" stroke-width="1.0"/>
<path d="M520,539.4 C527.35,539.4 533.65,536.5 541,536.5" fill="none" stroke="#000" stroke-width="0.95"/>
<line x1="561.7" y1="515.7" x2="612.6" y2="515.7" stroke="#000" stroke-width="1.0"/>
<line x1="561.7" y1="518.65" x2="612.6" y2="518.65" stroke="#000" stroke-width="1.0"/>
<line x1="561.7" y1="533.4" x2="612.6" y2="533.4" stroke="#000" stroke-width="1.0"/>
<line x1="561.7" y1="536.35" x2="612.6" y2="536.35" stroke="#000" stroke-width="1.0"/>
<line x1="561.7" y1="539.3" x2="612.6" y2="539.3" stroke="#000" stroke-width="1.0"/>
<line x1="561.7" y1="542.25" x2="612.6" y2="542.25" stroke="#000" stroke-width="1.0"/>
<line x1="561.7" y1="545.2" x2="612.6" y2="545.2" stroke="#000" stroke-width="1.0"/>
<line x1="561.7" y1="548.15" x2="612.6" y2="548.15" stroke="#000" stroke-width="1.0"/>
<line x1="561.7" y1="521.6" x2="590" y2="521.6" stroke="#000" stroke-width="1.0"/>
<line x1="561.7" y1="527.5" x2="577" y2="527.5" stroke="#000" stroke-width="1.0"/>
<line x1="561.7" y1="530.45" x2="577" y2="530.45" stroke="#000" stroke-width="1.0"/>
<line x1="612.6" y1="515.7" x2="681.3" y2="515.7" stroke="#000" stroke-width="1.0"/>
<line x1="612.6" y1="518.65" x2="681.3" y2="518.65" stroke="#000" stroke-width="1.0"/>
<line x1="612.6" y1="533.4" x2="681.3" y2="533.4" stroke="#000" stroke-width="1.0"/>
<line x1="612.6" y1="536.35" x2="681.3" y2="536.35" stroke="#000" stroke-width="1.0"/>
<line x1="612.6" y1="539.3" x2="681.3" y2="539.3" stroke="#000" stroke-width="1.0"/>
<line x1="612.6" y1="542.25" x2="681.3" y2="542.25" stroke="#000" stroke-width="1.0"/>
<line x1="640" y1="521.6" x2="681.3" y2="521.6" stroke="#999" stroke-width="1.1"/>
<line x1="640" y1="524.55" x2="681.3" y2="524.55" stroke="#999" stroke-width="1.1"/>
<line x1="640" y1="527.5" x2="681.3" y2="527.5" stroke="#999" stroke-width="1.1"/>
<line x1="640" y1="530.45" x2="681.3" y2="530.45" stroke="#999" stroke-width="1.1"/>
<line x1="612.6" y1="545.2" x2="681.3" y2="545.2" stroke="#222" stroke-width="1.0"/>
<line x1="612.6" y1="548.15" x2="681.3" y2="548.15" stroke="#777" stroke-width="1.1"/>
<polygon points="577,530.0 592.9,527.6 611.8,523.6 630.6,519.6 643.2,517.3000000000001 653.2,516.3000000000001 667.5,517.3 667.7,518.3 660.1,520.5 650.1,524.9 638.8000000000001,529.3 628.7,532.1 616.2,533.3 585.4,532.7" fill="#fff" stroke="#fff" stroke-width="0.1"/>
<path d="M576.60,530.40 C579.32,529.98 587.03,528.98 592.90,527.90 C598.77,526.82 605.52,525.23 611.80,523.90 C618.08,522.57 625.37,520.95 630.60,519.90 C635.83,518.85 639.43,518.15 643.20,517.60 C646.97,517.05 651.53,516.77 653.20,516.60" fill="none" stroke="#000" stroke-width="1.0"/>
<path d="M585.40,533.30 C587.70,532.85 594.80,531.60 599.20,530.60 C603.60,529.60 606.57,528.52 611.80,527.30 C617.03,526.08 624.32,524.70 630.60,523.30 C636.88,521.90 643.63,519.95 649.50,518.90 C655.37,517.85 660.57,517.38 665.80,517.00 C671.03,516.62 678.38,516.67 680.90,516.60" fill="none" stroke="#000" stroke-width="1.0"/>
<path d="M615.60,532.90 C617.68,532.70 624.33,532.37 628.10,531.70 C631.87,531.03 634.63,530.10 638.20,528.90 C641.77,527.70 645.95,525.97 649.50,524.50 C653.05,523.03 656.57,521.20 659.50,520.10 C662.43,519.00 665.83,518.27 667.10,517.90" fill="none" stroke="#000" stroke-width="1.0"/>
<path d="M638.20,528.70 C640.08,528.42 645.53,527.70 649.50,527.00 C653.47,526.30 659.92,524.92 662.00,524.50" fill="none" stroke="#000" stroke-width="0.9"/>
<line x1="662" y1="524.5" x2="672" y2="524.5" stroke="#888" stroke-width="1.0"/>
<path d="M590.00,521.60 C591.67,521.47 596.37,521.25 600.00,520.80 C603.63,520.35 608.80,519.26 611.80,518.90 C614.80,518.54 616.97,518.69 618.00,518.65" fill="none" stroke="#000" stroke-width="0.9"/>
<path d="M575.00,536.50 C576.67,536.68 581.22,537.15 585.00,537.60 C588.78,538.05 595.58,538.93 597.70,539.20" fill="none" stroke="#000" stroke-width="0.95"/>
<path d="M583.00,533.40 C584.50,533.58 589.17,534.13 592.00,534.50 C594.83,534.87 598.67,535.42 600.00,535.60" fill="none" stroke="#000" stroke-width="0.8"/>
<polygon points="628,539.0999999999999 643.2,541.0 655.8,544.4 664.6,546.3 672,547.6 668.3,548.2 655.8,546.7 643.2,543.6 630.6,540.7 618.1,539.4000000000001" fill="#fff" stroke="#fff" stroke-width="0.1"/>
<path d="M618.10,539.20 C620.18,539.42 626.42,539.80 630.60,540.50 C634.78,541.20 639.00,542.40 643.20,543.40 C647.40,544.40 651.62,545.73 655.80,546.50 C659.98,547.27 664.75,547.68 668.30,548.00 C671.85,548.32 675.63,548.33 677.10,548.40" fill="none" stroke="#000" stroke-width="1.0"/>
<path d="M628.00,539.30 C630.53,539.62 638.57,540.32 643.20,541.20 C647.83,542.08 652.23,543.72 655.80,544.60 C659.37,545.48 663.13,546.18 664.60,546.50" fill="none" stroke="#000" stroke-width="0.9"/>
<line x1="612.9" y1="512.3" x2="612.9" y2="551.2" stroke="#000" stroke-width="1.25"/>
<line x1="681.3" y1="515.7" x2="749.4" y2="515.7" stroke="#000" stroke-width="1.0"/>
<line x1="681.3" y1="518.9" x2="749.4" y2="518.9" stroke="#000" stroke-width="0.7"/>
<line x1="681.3" y1="521.6" x2="749.4" y2="521.6" stroke="#999" stroke-width="1.1"/>
<line x1="681.3" y1="524.5" x2="749.4" y2="524.5" stroke="#999" stroke-width="1.1"/>
<line x1="681.3" y1="527.4" x2="749.4" y2="527.4" stroke="#555" stroke-width="1.0"/>
<line x1="681.3" y1="530.5" x2="749.4" y2="530.5" stroke="#000" stroke-width="1.0"/>
<line x1="681.3" y1="533.3" x2="749.4" y2="533.3" stroke="#000" stroke-width="1.0"/>
<line x1="681.3" y1="536.4" x2="749.4" y2="536.4" stroke="#000" stroke-width="1.0"/>
<rect x="681.3" y="538.2" width="68.1" height="2.8" fill="#aaa"/>
<rect x="681.3" y="540.8" width="68.1" height="5.0" fill="#000"/>
<rect x="681.3" y="545.8" width="68.1" height="1.6" fill="#888"/>
<rect x="681.3" y="547.4" width="68.1" height="1.4" fill="#ccc"/>
<rect x="681.3" y="548.8" width="68.1" height="2.6" fill="#000"/>
<line x1="749.4" y1="515.7" x2="794" y2="515.7" stroke="#000" stroke-width="1.0"/>
<line x1="749.4" y1="519.5" x2="817.3" y2="519.5" stroke="#000" stroke-width="1.0"/>
<line x1="749.4" y1="522.6" x2="817.3" y2="522.6" stroke="#000" stroke-width="1.0"/>
<line x1="749.4" y1="525.8" x2="817.3" y2="525.8" stroke="#999" stroke-width="1.1"/>
<line x1="749.4" y1="527.9" x2="817.3" y2="527.9" stroke="#999" stroke-width="1.1"/>
<line x1="749.4" y1="530.5" x2="817.3" y2="530.5" stroke="#999" stroke-width="1.1"/>
<line x1="749.4" y1="533.3" x2="817.3" y2="533.3" stroke="#000" stroke-width="1.0"/>
<line x1="749.4" y1="536.4" x2="817.3" y2="536.4" stroke="#000" stroke-width="1.0"/>
<path d="M790.00,515.70 C791.67,515.83 797.00,516.07 800.00,516.50 C803.00,516.93 805.12,517.90 808.00,518.30 C810.88,518.70 815.75,518.80 817.30,518.90" fill="none" stroke="#000" stroke-width="0.95"/>
<rect x="749.4" y="538.2" width="67.9" height="2.8" fill="#aaa"/>
<rect x="749.4" y="540.8" width="66.3" height="4.4" fill="#000"/>
<rect x="749.4" y="549.4" width="67.9" height="2.0" fill="#000"/>
<line x1="806" y1="541" x2="809" y2="544" stroke="#fff" stroke-width="0.5"/>
<line x1="817.5" y1="516.6" x2="838.9" y2="516.6" stroke="#000" stroke-width="1.0"/>
<line x1="817.5" y1="519.5" x2="841.4" y2="519.5" stroke="#000" stroke-width="1.0"/>
<line x1="817.5" y1="522.4" x2="845" y2="522.4" stroke="#999" stroke-width="1.1"/>
<line x1="817.5" y1="525.4" x2="850" y2="525.4" stroke="#999" stroke-width="1.1"/>
<line x1="817.5" y1="528.3" x2="858" y2="528.3" stroke="#999" stroke-width="1.1"/>
<line x1="817.5" y1="531.2" x2="866" y2="531.2" stroke="#999" stroke-width="1.1"/>
<polygon points="840,525.4 866,531.6 845,531.6" fill="#aaa" stroke="#aaa" stroke-width="0.1"/>
<line x1="817.5" y1="533.3" x2="885.4" y2="533.3" stroke="#000" stroke-width="1.0"/>
<line x1="817.5" y1="536.5" x2="885.4" y2="536.5" stroke="#000" stroke-width="1.0"/>
<line x1="865.5" y1="539.6" x2="885.4" y2="539.6" stroke="#000" stroke-width="1.0"/>
<line x1="817.5" y1="542.4" x2="850.5" y2="542.4" stroke="#000" stroke-width="1.0"/>
<line x1="853.8" y1="546.5" x2="885.4" y2="546.5" stroke="#000" stroke-width="1.0"/>
<line x1="817.5" y1="548.3" x2="827" y2="548.3" stroke="#000" stroke-width="1.0"/>
<rect x="817.5" y="537.6" width="48" height="1.9" fill="#aaa"/>
<line x1="861" y1="516.6" x2="885.4" y2="516.6" stroke="#000" stroke-width="1.0"/>
<polygon points="838,517.2 846,517.2 866,524.5 885,530.2 885,532.6 872,532.6 856,527.5" fill="#fff" stroke="#fff" stroke-width="0.1"/>
<path d="M838.90,516.60 C840.42,516.88 844.82,517.23 848.00,518.30 C851.18,519.37 855.00,521.38 858.00,523.00 C861.00,524.62 863.12,526.50 866.00,528.00 C868.88,529.50 872.07,531.13 875.30,532.00 C878.53,532.87 883.72,533.00 885.40,533.20" fill="none" stroke="#000" stroke-width="0.95"/>
<path d="M822.60,519.50 C824.83,519.80 831.18,520.35 836.00,521.30 C840.82,522.25 846.83,523.72 851.50,525.20 C856.17,526.68 860.03,528.93 864.00,530.20 C867.97,531.47 873.42,532.37 875.30,532.80" fill="none" stroke="#000" stroke-width="0.95"/>
<path d="M843.90,516.60 C845.92,516.97 851.65,517.85 856.00,518.80 C860.35,519.75 865.10,521.13 870.00,522.30 C874.90,523.47 882.83,525.22 885.40,525.80" fill="none" stroke="#000" stroke-width="0.95"/>
<path d="M851.50,516.60 C853.58,517.10 860.25,518.27 864.00,519.60 C867.75,520.93 870.43,523.05 874.00,524.60 C877.57,526.15 883.50,528.18 885.40,528.90" fill="none" stroke="#000" stroke-width="0.95"/>
<path d="M826.00,548.30 C827.17,548.18 830.60,547.95 833.00,547.60 C835.40,547.25 838.07,546.70 840.40,546.20 C842.73,545.70 844.77,545.20 847.00,544.60 C849.23,544.00 851.63,543.23 853.80,542.60 C855.97,541.97 858.05,541.28 860.00,540.80 C861.95,540.32 864.58,539.88 865.50,539.70" fill="none" stroke="#000" stroke-width="1.0"/>
<path d="M837.70,546.70 C838.58,546.58 841.22,546.17 843.00,546.00 C844.78,545.83 846.60,545.63 848.40,545.70 C850.20,545.77 852.90,546.28 853.80,546.40" fill="none" stroke="#000" stroke-width="0.9"/>
<line x1="885.4" y1="516.6" x2="945.7" y2="516.6" stroke="#000" stroke-width="1.0"/>
<line x1="885.4" y1="519.5" x2="940" y2="519.5" stroke="#000" stroke-width="1.0"/>
<line x1="940" y1="519.5" x2="946.3" y2="519.5" stroke="#999" stroke-width="1.1"/>
<line x1="885.4" y1="533.3" x2="925.6" y2="533.3" stroke="#000" stroke-width="1.0"/>
<line x1="925.6" y1="533.3" x2="953.2" y2="533.3" stroke="#999" stroke-width="1.1"/>
<line x1="885.4" y1="536.5" x2="953.5" y2="536.5" stroke="#000" stroke-width="1.0"/>
<line x1="885.4" y1="539.6" x2="953.5" y2="539.6" stroke="#000" stroke-width="1.0"/>
<line x1="885.4" y1="542.5" x2="953.5" y2="542.5" stroke="#000" stroke-width="1.0"/>
<line x1="903" y1="545.3" x2="947.6" y2="545.3" stroke="#888" stroke-width="1.1"/>
<line x1="900.5" y1="547.8" x2="947" y2="547.8" stroke="#888" stroke-width="1.1"/>
<line x1="885.4" y1="545.3" x2="903" y2="545.3" stroke="#000" stroke-width="1.0"/>
<path d="M893,533.3 C898.6,533.3 903.4,536.5 909,536.5" fill="none" stroke="#000" stroke-width="0.95"/>
<path d="M926,536.5 C933.0,536.5 939.0,539.6 946,539.6" fill="none" stroke="#000" stroke-width="0.95"/>
<line x1="953.5" y1="536.5" x2="1204.6" y2="536.5" stroke="#000" stroke-width="0.95"/>
<line x1="953.5" y1="539.4" x2="1204.6" y2="539.4" stroke="#000" stroke-width="0.95"/>
<path d="M1022.40,467.30 C1022.33,470.25 1022.55,479.75 1022.00,485.00 C1021.45,490.25 1020.35,494.80 1019.10,498.80 C1017.85,502.80 1016.38,505.85 1014.50,509.00 C1012.62,512.15 1010.30,515.03 1007.80,517.70 C1005.30,520.37 1002.63,522.90 999.50,525.00 C996.37,527.10 992.42,528.87 989.00,530.30 C985.58,531.73 982.15,532.75 979.00,533.60 C975.85,534.45 973.27,534.92 970.10,535.40 C966.93,535.88 961.68,536.32 960.00,536.50" fill="none" stroke="#000" stroke-width="0.95"/>
<path d="M1025.50,467.30 C1025.25,471.08 1024.85,483.70 1024.00,490.00 C1023.15,496.30 1021.73,501.10 1020.40,505.10 C1019.07,509.10 1017.68,511.27 1016.00,514.00 C1014.32,516.73 1012.38,519.28 1010.30,521.50 C1008.22,523.72 1006.00,525.58 1003.50,527.30 C1001.00,529.02 997.88,530.52 995.30,531.80 C992.72,533.08 990.38,534.10 988.00,535.00 C985.62,535.90 983.98,536.47 981.00,537.20 C978.02,537.93 971.92,539.03 970.10,539.40" fill="none" stroke="#000" stroke-width="0.95"/>
<path d="M1025.50,467.30 C1025.75,470.25 1026.18,479.75 1027.00,485.00 C1027.82,490.25 1029.07,494.80 1030.40,498.80 C1031.73,502.80 1033.32,505.85 1035.00,509.00 C1036.68,512.15 1038.25,515.03 1040.50,517.70 C1042.75,520.37 1045.57,522.90 1048.50,525.00 C1051.43,527.10 1055.02,528.88 1058.10,530.30 C1061.18,531.72 1063.87,532.65 1067.00,533.50 C1070.13,534.35 1073.57,534.90 1076.90,535.40 C1080.23,535.90 1085.32,536.32 1087.00,536.50" fill="none" stroke="#000" stroke-width="0.95"/>
<path d="M1022.40,467.30 C1022.67,471.08 1023.08,483.70 1024.00,490.00 C1024.92,496.30 1026.48,501.10 1027.90,505.10 C1029.32,509.10 1030.82,511.27 1032.50,514.00 C1034.18,516.73 1035.92,519.28 1038.00,521.50 C1040.08,523.72 1042.50,525.58 1045.00,527.30 C1047.50,529.02 1050.50,530.55 1053.00,531.80 C1055.50,533.05 1057.67,533.90 1060.00,534.80 C1062.33,535.70 1064.38,536.43 1067.00,537.20 C1069.62,537.97 1074.25,539.03 1075.70,539.40" fill="none" stroke="#000" stroke-width="0.95"/>
<path d="M1024.00,482.00 C1023.75,483.83 1023.10,489.57 1022.50,493.00 C1021.90,496.43 1021.28,499.68 1020.40,502.60 C1019.52,505.52 1018.03,507.98 1017.20,510.50 C1016.37,513.02 1015.88,515.45 1015.40,517.70 C1014.92,519.95 1014.52,521.90 1014.30,524.00 C1014.08,526.10 1014.13,529.25 1014.10,530.30" fill="none" stroke="#000" stroke-width="0.95"/>
<line x1="1014.1" y1="530.3" x2="1014.1" y2="559.4" stroke="#000" stroke-width="0.95"/>
<line x1="1014.1" y1="549.1" x2="1023.5" y2="549.1" stroke="#000" stroke-width="0.9"/>
<line x1="1023.5" y1="544.1" x2="1023.5" y2="554.7" stroke="#000" stroke-width="0.9"/>
<text x="1016.6" y="547.6" font-size="3.2" text-anchor="middle" stroke="#000" stroke-width="0.13">n</text>
<path d="M1094.3,392.5 L1078,392.5 A58.5,58.5 0 0 0 1019.5,451 L1019.5,467.3" fill="none" stroke="#000" stroke-width="1.0"/>
<path d="M1094.3,395.6 L1078,395.6 A55.4,55.4 0 0 0 1022.4,451 L1022.4,467.3" fill="none" stroke="#000" stroke-width="0.95"/>
<path d="M1094.3,398.6 L1078,398.6 A52.4,52.4 0 0 0 1025.5,451 L1025.5,467.3" fill="none" stroke="#000" stroke-width="0.95"/>
<path d="M1094.3,402.2 L1078,402.2 A49,49 0 0 0 1029,451 L1029,467.3" fill="none" stroke="#000" stroke-width="1.0"/>
<line x1="1094.3" y1="395.6" x2="1147.8" y2="395.6" stroke="#000" stroke-width="0.95"/>
<line x1="1094.3" y1="398.6" x2="1147.8" y2="398.6" stroke="#000" stroke-width="0.95"/>
<line x1="1197.7" y1="392.3" x2="1197.7" y2="467.3" stroke="#000" stroke-width="0.8"/>
<line x1="1200.6" y1="392.3" x2="1200.6" y2="467.3" stroke="#000" stroke-width="1.1"/>
<path d="M1147.80,395.60 C1149.50,395.73 1154.63,395.75 1158.00,396.40 C1161.37,397.05 1164.67,397.98 1168.00,399.50 C1171.33,401.02 1174.92,403.17 1178.00,405.50 C1181.08,407.83 1184.00,410.58 1186.50,413.50 C1189.00,416.42 1191.17,419.92 1193.00,423.00 C1194.83,426.08 1196.33,429.33 1197.50,432.00 C1198.67,434.67 1199.48,436.67 1200.00,439.00 C1200.52,441.33 1200.50,444.83 1200.60,446.00" fill="none" stroke="#000" stroke-width="0.95"/>
<path d="M1147.80,398.60 C1149.33,398.73 1153.97,398.78 1157.00,399.40 C1160.03,400.02 1163.00,400.87 1166.00,402.30 C1169.00,403.73 1172.17,405.80 1175.00,408.00 C1177.83,410.20 1180.58,412.67 1183.00,415.50 C1185.42,418.33 1187.67,421.75 1189.50,425.00 C1191.33,428.25 1192.82,431.92 1194.00,435.00 C1195.18,438.08 1195.98,440.67 1196.60,443.50 C1197.22,446.33 1197.52,450.58 1197.70,452.00" fill="none" stroke="#000" stroke-width="0.95"/>
<path d="M1110.00,398.60 C1112.50,398.75 1119.12,399.03 1125.00,399.50 C1130.88,399.97 1140.13,400.73 1145.30,401.40 C1150.47,402.07 1152.72,402.40 1156.00,403.50 C1159.28,404.60 1162.08,406.08 1165.00,408.00 C1167.92,409.92 1170.92,412.42 1173.50,415.00 C1176.08,417.58 1178.33,420.33 1180.50,423.50 C1182.67,426.67 1184.83,430.58 1186.50,434.00 C1188.17,437.42 1189.55,441.00 1190.50,444.00 C1191.45,447.00 1191.88,449.33 1192.20,452.00 C1192.52,454.67 1192.37,458.67 1192.40,460.00" fill="none" stroke="#000" stroke-width="0.95"/>
<line x1="1192.4" y1="460" x2="1192.4" y2="467.3" stroke="#000" stroke-width="0.95"/>
<line x1="1107.6" y1="398.6" x2="1164.1" y2="415.2" stroke="#000" stroke-width="0.9"/>
<path d="M1113,395.6 C1117.9,395.6 1122.1,398.6 1127,398.6" fill="none" stroke="#000" stroke-width="0.95"/>
<path d="M1197.7,411 C1197.7,416.6 1200.6,421.4 1200.6,427" fill="none" stroke="#000" stroke-width="0.95"/>
<path d="M1200.60,467.30 C1200.55,468.75 1200.40,473.03 1200.30,476.00 C1200.20,478.97 1200.33,481.93 1200.00,485.10 C1199.67,488.27 1199.03,491.85 1198.30,495.00 C1197.57,498.15 1196.78,501.17 1195.60,504.00 C1194.42,506.83 1192.88,509.50 1191.20,512.00 C1189.52,514.50 1187.62,516.72 1185.50,519.00 C1183.38,521.28 1181.02,523.60 1178.50,525.70 C1175.98,527.80 1172.98,529.95 1170.40,531.60 C1167.82,533.25 1165.50,534.48 1163.00,535.60 C1160.50,536.72 1158.35,537.67 1155.40,538.30 C1152.45,538.93 1146.98,539.22 1145.30,539.40" fill="none" stroke="#000" stroke-width="0.95"/>
<path d="M1197.70,467.30 C1197.67,468.75 1197.65,473.03 1197.50,476.00 C1197.35,478.97 1197.22,481.93 1196.80,485.10 C1196.38,488.27 1195.83,491.85 1195.00,495.00 C1194.17,498.15 1193.08,501.17 1191.80,504.00 C1190.52,506.83 1188.98,509.50 1187.30,512.00 C1185.62,514.50 1183.83,516.80 1181.70,519.00 C1179.57,521.20 1177.00,523.30 1174.50,525.20 C1172.00,527.10 1169.28,528.90 1166.70,530.40 C1164.12,531.90 1161.73,533.20 1159.00,534.20 C1156.27,535.20 1153.83,536.02 1150.30,536.40 C1146.77,536.78 1139.88,536.48 1137.80,536.50" fill="none" stroke="#000" stroke-width="0.95"/>
<path d="M1192.40,467.30 C1192.50,469.42 1192.90,475.98 1193.00,480.00 C1193.10,484.02 1193.30,487.90 1193.00,491.40 C1192.70,494.90 1192.03,497.85 1191.20,501.00 C1190.37,504.15 1189.28,507.63 1188.00,510.30 C1186.72,512.97 1185.17,514.92 1183.50,517.00 C1181.83,519.08 1180.08,521.00 1178.00,522.80 C1175.92,524.60 1173.52,526.30 1171.00,527.80 C1168.48,529.30 1165.73,530.63 1162.90,531.80 C1160.07,532.97 1156.93,534.07 1154.00,534.80 C1151.07,535.53 1146.75,535.97 1145.30,536.20" fill="none" stroke="#000" stroke-width="0.95"/>
<path d="M1183.60,492.70 C1183.53,493.92 1183.52,497.50 1183.20,500.00 C1182.88,502.50 1182.57,505.12 1181.70,507.70 C1180.83,510.28 1179.47,512.98 1178.00,515.50 C1176.53,518.02 1174.73,520.75 1172.90,522.80 C1171.07,524.85 1169.08,526.30 1167.00,527.80 C1164.92,529.30 1161.50,531.13 1160.40,531.80" fill="none" stroke="#000" stroke-width="0.95"/>
<path d="M1173.00,539.40 C1174.67,539.27 1179.45,539.07 1183.00,538.60 C1186.55,538.13 1190.70,537.00 1194.30,536.60 C1197.90,536.20 1202.88,536.27 1204.60,536.20" fill="none" stroke="#000" stroke-width="0.95"/>
<text x="1186.8" y="481" font-size="4.6" text-anchor="middle" transform="rotate(90 1186.8 481)" stroke="#000" stroke-width="0.13">Scrap Yard</text>
<text x="1178.6" y="480" font-size="3.2" text-anchor="middle" transform="rotate(90 1178.6 480)" stroke="#000" stroke-width="0.13">Ascott</text>
<text x="1174.2" y="480" font-size="3.2" text-anchor="middle" transform="rotate(90 1174.2 480)" stroke="#000" stroke-width="0.13">Building</text>
<circle cx="1174.6" cy="483" r="1.0" fill="#000"/>
<line x1="445.4" y1="191.5" x2="486" y2="191.0" stroke="#888" stroke-width="1.0"/>
<path d="M485.00,191.30 C486.17,191.25 489.50,191.12 492.00,191.00 C494.50,190.88 497.33,190.72 500.00,190.60 C502.67,190.48 506.67,190.35 508.00,190.30" fill="none" stroke="#000" stroke-width="0.9"/>
<line x1="500" y1="190.8" x2="581.6" y2="190.8" stroke="#999" stroke-width="1.1"/>
<line x1="445.4" y1="194" x2="455" y2="194" stroke="#888" stroke-width="1.0"/>
<line x1="455" y1="193.8" x2="581.6" y2="193.7" stroke="#000" stroke-width="1.0"/>
<path d="M454.80,194.00 C457.93,194.38 467.32,195.33 473.60,196.30 C479.88,197.27 487.93,198.97 492.50,199.80 C497.07,200.63 497.75,200.97 501.00,201.30 C504.25,201.63 507.75,201.72 512.00,201.80 C516.25,201.88 521.83,201.35 526.50,201.80 C531.17,202.25 535.28,203.40 540.00,204.50 C544.72,205.60 550.63,207.62 554.80,208.40 C558.97,209.18 561.23,209.07 565.00,209.20 C568.77,209.33 575.33,209.20 577.40,209.20" fill="none" stroke="#000" stroke-width="0.95"/>
<path d="M568.00,193.70 C565.33,194.12 557.33,195.35 552.00,196.20 C546.67,197.05 541.00,197.95 536.00,198.80 C531.00,199.65 525.93,200.67 522.00,201.30 C518.07,201.93 515.57,202.28 512.40,202.60 C509.23,202.92 504.57,203.10 503.00,203.20" fill="none" stroke="#000" stroke-width="0.95"/>
<path d="M512.00,202.00 C510.00,202.20 504.05,202.60 500.00,203.20 C495.95,203.80 491.20,204.63 487.70,205.60 C484.20,206.57 481.35,207.77 479.00,209.00 C476.65,210.23 475.52,211.50 473.60,213.00 C471.68,214.50 469.38,216.27 467.50,218.00 C465.62,219.73 463.80,221.65 462.30,223.40 C460.80,225.15 459.60,226.82 458.50,228.50 C457.40,230.18 456.37,231.58 455.70,233.50 C455.03,235.42 454.78,236.35 454.50,240.00 C454.22,243.65 454.08,252.83 454.00,255.40" fill="none" stroke="#000" stroke-width="0.95"/>
<path d="M512.40,202.60 C510.67,202.92 505.32,203.72 502.00,204.50 C498.68,205.28 495.17,206.30 492.50,207.30 C489.83,208.30 487.88,209.40 486.00,210.50 C484.12,211.60 482.95,212.48 481.20,213.90 C479.45,215.32 477.23,217.27 475.50,219.00 C473.77,220.73 472.17,222.55 470.80,224.30 C469.43,226.05 468.25,227.88 467.30,229.50 C466.35,231.12 465.78,231.92 465.10,234.00 C464.42,236.08 463.62,238.43 463.20,242.00 C462.78,245.57 462.70,253.17 462.60,255.40" fill="none" stroke="#000" stroke-width="0.95"/>
<path d="M483.00,211.00 C482.33,211.83 480.25,214.33 479.00,216.00 C477.75,217.67 476.40,219.42 475.50,221.00 C474.60,222.58 473.92,224.75 473.60,225.50" fill="none" stroke="#000" stroke-width="0.85"/>
<line x1="448" y1="205" x2="483" y2="204.2" stroke="#555" stroke-width="0.95"/>
<rect x="497.3" y="196.5" width="15.6" height="2.1" fill="#000"/>
<line x1="500" y1="197.5" x2="508" y2="197.5" stroke="#fff" stroke-width="0.5"/>
<rect x="447" y="204.3" width="2.6" height="1.4" fill="#000"/>
<rect x="449.6" y="208.7" width="7.5" height="6.6" fill="none" stroke="#000" stroke-width="1.1"/>
<rect x="458.5" y="208.7" width="9.0" height="3.8" fill="none" stroke="#000" stroke-width="1.0"/>
<line x1="452.8" y1="206.5" x2="452.8" y2="208.7" stroke="#000" stroke-width="1.0"/>
<line x1="463" y1="206.5" x2="463" y2="208.7" stroke="#000" stroke-width="1.0"/>
<circle cx="447.5" cy="212.5" r="1.95" fill="#000"/>
<circle cx="448.2" cy="217.5" r="1.43" fill="#000"/>
<circle cx="451" cy="217.8" r="1.43" fill="#000"/>
<circle cx="455.2" cy="219.4" r="1.56" fill="#000"/>
<line x1="460" y1="215.5" x2="468.5" y2="215.5" stroke="#555" stroke-width="0.6"/>
<line x1="460" y1="216.8" x2="466" y2="216.8" stroke="#555" stroke-width="0.6"/>
<circle cx="476" cy="224.8" r="2.73" fill="#000"/>
<circle cx="475.2" cy="229.5" r="2.6" fill="#000"/>
<circle cx="474.4" cy="235" r="2.86" fill="#000"/>
<circle cx="476.8" cy="239.5" r="2.73" fill="#000"/>
<circle cx="477.5" cy="232.3" r="2.08" fill="#000"/>
<circle cx="473" cy="240.5" r="2.08" fill="#000"/>
<circle cx="476.5" cy="245.5" r="2.34" fill="#000"/>
<circle cx="478" cy="250.5" r="1.82" fill="#000"/>
<polyline points="450.5,232 456,236 453.5,240" fill="none" stroke="#000" stroke-width="1.2"/>
<polyline points="451,240 454,247.5 458,247 456.5,240.5" fill="none" stroke="#000" stroke-width="0.9"/>
<polygon points="459.5,236 462,244 464.5,243.2 462.8,235" fill="#333" stroke="#000" stroke-width="0.9"/>
<line x1="449" y1="238" x2="452.5" y2="249" stroke="#000" stroke-width="0.95"/>
<line x1="455.5" y1="248.5" x2="468" y2="251.5" stroke="#000" stroke-width="0.9"/>
<circle cx="470.8" cy="250.2" r="2.1" fill="none" stroke="#000" stroke-width="0.9"/>
<line x1="452" y1="251.8" x2="462" y2="251.8" stroke="#777" stroke-width="0.6"/>
<circle cx="467" cy="247.5" r="1.3" fill="#000"/>
<circle cx="465.8" cy="240" r="1.3" fill="#000"/>
<circle cx="468.8" cy="243.5" r="1.43" fill="#000"/>
<line x1="456" y1="232.5" x2="462" y2="237.5" stroke="#000" stroke-width="1.0"/>
<line x1="450.8" y1="234" x2="455" y2="238" stroke="#000" stroke-width="1.0"/>
<circle cx="484.6" cy="216.3" r="2.08" fill="#000"/>
<circle cx="489.3" cy="216.9" r="1.69" fill="#000"/>
<circle cx="495" cy="217.7" r="1.95" fill="#000"/>
<circle cx="493" cy="212.5" r="1.69" fill="#000"/>
<circle cx="500.1" cy="213.9" r="2.08" fill="#000"/>
<circle cx="502.5" cy="217.7" r="1.95" fill="#000"/>
<circle cx="497.5" cy="216.5" r="1.56" fill="#000"/>
<circle cx="520.9" cy="217.2" r="2.08" fill="#000"/>
<circle cx="523.2" cy="215.8" r="1.82" fill="#000"/>
<circle cx="527.5" cy="219.6" r="1.56" fill="#000"/>
<circle cx="534.2" cy="218.2" r="1.82" fill="#000"/>
<circle cx="541.6" cy="218.4" r="1.82" fill="#000"/>
<circle cx="545.4" cy="216.3" r="1.82" fill="#000"/>
<circle cx="547.7" cy="220.5" r="1.56" fill="#000"/>
<circle cx="552.9" cy="217.7" r="2.21" fill="#000"/>
<circle cx="555.3" cy="218.2" r="2.08" fill="#000"/>
<circle cx="558.5" cy="218.6" r="2.08" fill="#000"/>
<circle cx="562.8" cy="219.1" r="2.08" fill="#000"/>
<circle cx="567" cy="218.2" r="2.21" fill="#000"/>
<circle cx="572.7" cy="218.6" r="2.21" fill="#000"/>
<circle cx="577.4" cy="215.8" r="2.47" fill="#000"/>
<circle cx="576.4" cy="220" r="1.82" fill="#000"/>
<circle cx="570" cy="219.8" r="1.69" fill="#000"/>
<circle cx="560.5" cy="220.2" r="1.56" fill="#000"/>
<circle cx="519" cy="213.9" r="1.7" fill="#fff" stroke="#000" stroke-width="0.7"/>
<circle cx="526.5" cy="212.5" r="2.21" fill="#fff" stroke="#000" stroke-width="0.7"/>
<circle cx="526.5" cy="212.5" r="0.45" fill="#000"/>
<path d="M524.60,211.10 C525.50,210.97 528.10,210.47 530.00,210.30 C531.90,210.13 533.83,209.90 536.00,210.10 C538.17,210.30 540.67,211.02 543.00,211.50 C545.33,211.98 548.83,212.75 550.00,213.00" fill="none" stroke="#000" stroke-width="0.6"/>
<path d="M507.2,207.3 C508.6,212 508.6,216 507.4,220.5 C506,216 506,212 507.2,207.3" fill="none" stroke="#000" stroke-width="0.85"/>
<line x1="505.5" y1="207.5" x2="505.5" y2="211" stroke="#000" stroke-width="0.6"/>
<line x1="494" y1="209.3" x2="505" y2="209.3" stroke="#444" stroke-width="0.6"/>
<line x1="518.5" y1="216" x2="518" y2="221" stroke="#000" stroke-width="0.85"/>
<rect x="557.1" y="202.1" width="14.6" height="6.6" fill="none" stroke="#000" stroke-width="1.1"/>
<line x1="557.1" y1="205.9" x2="571.7" y2="205.9" stroke="#000" stroke-width="0.9"/>
<line x1="555.5" y1="210.2" x2="569" y2="210.2" stroke="#333" stroke-width="0.85"/>
<line x1="556" y1="212.2" x2="570" y2="212.2" stroke="#555" stroke-width="0.6"/>
<line x1="556.5" y1="213.3" x2="569" y2="213.3" stroke="#555" stroke-width="0.5"/>
<line x1="556.5" y1="210.3" x2="557.5" y2="212" stroke="#000" stroke-width="0.85"/>
<line x1="560" y1="210.3" x2="561" y2="212" stroke="#000" stroke-width="0.85"/>
<line x1="564" y1="210.3" x2="565" y2="212" stroke="#000" stroke-width="0.85"/>
<circle cx="498.5" cy="212.7" r="0.4" fill="#000"/>
<line x1="581.6" y1="191.5" x2="600" y2="191.5" stroke="#000" stroke-width="0.9"/>
<line x1="581.6" y1="193.9" x2="640" y2="193.9" stroke="#888" stroke-width="1.1"/>
<path d="M595.60,193.70 C597.33,193.55 602.60,193.35 606.00,192.80 C609.40,192.25 612.50,191.43 616.00,190.40 C619.50,189.37 623.33,187.95 627.00,186.60 C630.67,185.25 633.67,184.07 638.00,182.30 C642.33,180.53 647.90,178.13 653.00,176.00 C658.10,173.87 666.00,170.58 668.60,169.50" fill="none" stroke="#000" stroke-width="0.8"/>
<path d="M668.00,166.10 C669.33,165.47 673.17,163.45 676.00,162.30 C678.83,161.15 681.78,159.92 685.00,159.20 C688.22,158.48 691.97,158.07 695.30,158.00 C698.63,157.93 701.55,158.18 705.00,158.80 C708.45,159.42 712.37,160.58 716.00,161.70 C719.63,162.82 725.00,164.87 726.80,165.50" fill="none" stroke="#000" stroke-width="0.9"/>
<path d="M669.60,169.50 C670.83,168.95 674.27,167.20 677.00,166.20 C679.73,165.20 682.95,164.12 686.00,163.50 C689.05,162.88 692.13,162.55 695.30,162.50 C698.47,162.45 701.72,162.68 705.00,163.20 C708.28,163.72 711.62,164.62 715.00,165.60 C718.38,166.58 723.58,168.52 725.30,169.10" fill="none" stroke="#000" stroke-width="0.8"/>
<path d="M671.20,173.00 C672.33,172.55 675.53,171.15 678.00,170.30 C680.47,169.45 683.12,168.47 686.00,167.90 C688.88,167.33 692.30,166.95 695.30,166.90 C698.30,166.85 700.88,167.15 704.00,167.60 C707.12,168.05 710.75,168.77 714.00,169.60 C717.25,170.43 721.92,172.10 723.50,172.60" fill="none" stroke="#000" stroke-width="0.9"/>
<line x1="722.3" y1="181.3" x2="780.7" y2="181.3" stroke="#000" stroke-width="1.0"/>
<line x1="747.5" y1="178.5" x2="780.7" y2="178.5" stroke="#000" stroke-width="0.9"/>
<path d="M725.30,169.10 C726.58,169.63 730.38,171.15 733.00,172.30 C735.62,173.45 738.33,175.00 741.00,176.00 C743.67,177.00 746.33,177.75 749.00,178.30 C751.67,178.85 755.67,179.13 757.00,179.30" fill="none" stroke="#000" stroke-width="0.8"/>
<path d="M752,178.5 C757.6,178.5 762.4,181.3 768,181.3" fill="none" stroke="#000" stroke-width="0.95"/>
<line x1="765" y1="181.8" x2="773" y2="181.8" stroke="#000" stroke-width="1.3"/>
<line x1="768.4" y1="182.3" x2="768.4" y2="191" stroke="#000" stroke-width="0.9"/>
<rect x="764.5" y="188.2" width="3.9" height="3.0" fill="none" stroke="#000" stroke-width="0.8"/>
<path d="M462.60,255.40 C462.62,257.17 462.38,261.90 462.70,266.00 C463.02,270.10 463.45,275.17 464.50,280.00 C465.55,284.83 467.08,290.17 469.00,295.00 C470.92,299.83 472.63,304.03 476.00,309.00 C479.37,313.97 484.70,320.30 489.20,324.80 C493.70,329.30 497.87,332.63 503.00,336.00 C508.13,339.37 514.17,342.50 520.00,345.00 C525.83,347.50 531.80,349.67 538.00,351.00 C544.20,352.33 554.00,352.67 557.20,353.00" fill="none" stroke="#000" stroke-width="0.9"/>
<path d="M565.10,350.50 C567.25,350.25 573.85,349.92 578.00,349.00 C582.15,348.08 586.17,346.83 590.00,345.00 C593.83,343.17 597.58,340.53 601.00,338.00 C604.42,335.47 608.92,331.17 610.50,329.80" fill="none" stroke="#000" stroke-width="0.8"/>
<path d="M565.10,353.40 C567.42,353.17 574.68,352.90 579.00,352.00 C583.32,351.10 587.08,349.92 591.00,348.00 C594.92,346.08 598.92,343.28 602.50,340.50 C606.08,337.72 610.83,332.83 612.50,331.30" fill="none" stroke="#000" stroke-width="0.8"/>
<path d="M565.10,356.40 C567.58,356.17 575.43,355.90 580.00,355.00 C584.57,354.10 588.50,352.92 592.50,351.00 C596.50,349.08 600.33,346.55 604.00,343.50 C607.67,340.45 612.75,334.50 614.50,332.70" fill="none" stroke="#000" stroke-width="0.8"/>
<path d="M612.00,331.00 C613.67,329.00 618.18,323.03 622.00,319.00 C625.82,314.97 630.57,309.88 634.90,306.80 C639.23,303.72 643.52,302.12 648.00,300.50 C652.48,298.88 657.30,298.60 661.80,297.10 C666.30,295.60 670.52,293.22 675.00,291.50 C679.48,289.78 684.87,287.85 688.70,286.80 C692.53,285.75 695.00,285.55 698.00,285.20 C701.00,284.85 705.25,284.78 706.70,284.70" fill="none" stroke="#000" stroke-width="0.9"/>
<line x1="706.7" y1="284.4" x2="761" y2="284.4" stroke="#000" stroke-width="0.9"/>
<path d="M761.00,284.40 C763.33,284.43 770.17,284.50 775.00,284.60 C779.83,284.70 785.10,284.92 790.00,285.00 C794.90,285.08 802.00,285.08 804.40,285.10" fill="none" stroke="#000" stroke-width="0.9"/>
<line x1="804.4" y1="285.1" x2="923.6" y2="285.1" stroke="#000" stroke-width="0.95"/>
<path d="M923.60,285.10 C926.33,285.08 934.27,285.13 940.00,285.00 C945.73,284.87 955.00,284.42 958.00,284.30" fill="none" stroke="#000" stroke-width="0.8"/>
<line x1="958" y1="284.3" x2="974.6" y2="284.3" stroke="#000" stroke-width="0.9"/>
<path d="M661.80,296.00 C662.83,295.25 665.47,292.67 668.00,291.50 C670.53,290.33 673.67,289.72 677.00,289.00 C680.33,288.28 686.17,287.50 688.00,287.20" fill="none" stroke="#000" stroke-width="0.6"/>
<circle cx="609.4" cy="321.8" r="3.3" fill="#000"/>
<circle cx="616.9" cy="315.5" r="3.3" fill="#000"/>
<circle cx="625.9" cy="324.5" r="3.3" fill="#000"/>
<circle cx="647.6" cy="294.1" r="3.3" fill="#000"/>
<circle cx="654.6" cy="286.3" r="3.3" fill="#000"/>
<circle cx="656.3" cy="293.4" r="3.3" fill="#000"/>
<circle cx="654" cy="305.6" r="3.3" fill="#000"/>
<circle cx="661" cy="302.3" r="3.3" fill="#000"/>
<circle cx="662.2" cy="310.1" r="3.3" fill="#000"/>
<circle cx="625.1" cy="334.1" r="3.4" fill="#fff" stroke="#000" stroke-width="1.1"/>
<circle cx="625.1" cy="334.1" r="0.7" fill="#000"/>
<path d="M657.00,294.60 C658.33,294.07 662.25,292.45 665.00,291.40 C667.75,290.35 670.92,289.23 673.50,288.30 C676.08,287.37 678.13,286.52 680.50,285.80 C682.87,285.08 684.95,284.43 687.70,284.00 C690.45,283.57 693.87,283.35 697.00,283.20 C700.13,283.05 704.92,283.12 706.50,283.10" fill="none" stroke="#000" stroke-width="0.7"/>
<line x1="706.5" y1="283.3" x2="715" y2="283.5" stroke="#888" stroke-width="1.4"/>
<circle cx="663.2" cy="283.5" r="2.1" fill="#fff" stroke="#000" stroke-width="1.3"/>
<circle cx="663.2" cy="283.5" r="0.6" fill="#000"/>
<circle cx="668.6" cy="281.9" r="2.3" fill="#fff" stroke="#000" stroke-width="1.3"/>
<circle cx="668.6" cy="281.9" r="0.6" fill="#000"/>
<circle cx="673.5" cy="282.1" r="1.6" fill="#fff" stroke="#000" stroke-width="1.3"/>
<circle cx="673.5" cy="282.1" r="0.6" fill="#000"/>
<circle cx="696.2" cy="277" r="2.4" fill="#fff" stroke="#000" stroke-width="1.3"/>
<circle cx="696.2" cy="277" r="0.6" fill="#000"/>
<circle cx="701.3" cy="277.4" r="2.5" fill="#fff" stroke="#000" stroke-width="1.3"/>
<circle cx="701.3" cy="277.4" r="0.6" fill="#000"/>
<circle cx="697.6" cy="290.6" r="2.3" fill="#fff" stroke="#000" stroke-width="1.3"/>
<circle cx="697.6" cy="290.6" r="0.6" fill="#000"/>
<circle cx="702.7" cy="290.6" r="2.3" fill="#fff" stroke="#000" stroke-width="1.3"/>
<circle cx="702.7" cy="290.6" r="0.6" fill="#000"/>
<circle cx="696.2" cy="296.3" r="2.3" fill="#fff" stroke="#000" stroke-width="1.3"/>
<circle cx="696.2" cy="296.3" r="0.6" fill="#000"/>
<circle cx="701.8" cy="296.3" r="2.3" fill="#fff" stroke="#000" stroke-width="1.3"/>
<circle cx="701.8" cy="296.3" r="0.6" fill="#000"/>
<circle cx="697.6" cy="301.9" r="2.2" fill="#fff" stroke="#000" stroke-width="1.3"/>
<circle cx="697.6" cy="301.9" r="0.6" fill="#000"/>
<circle cx="701.8" cy="301" r="2.2" fill="#fff" stroke="#000" stroke-width="1.3"/>
<circle cx="701.8" cy="301" r="0.6" fill="#000"/>
<circle cx="669.3" cy="304.3" r="2.3" fill="#fff" stroke="#000" stroke-width="1.3"/>
<circle cx="669.3" cy="304.3" r="0.6" fill="#000"/>
<circle cx="674" cy="307.1" r="2.7" fill="#fff" stroke="#000" stroke-width="1.3"/>
<circle cx="674" cy="307.1" r="0.6" fill="#000"/>
<circle cx="715.9" cy="292.5" r="2.5" fill="#fff" stroke="#000" stroke-width="1.3"/>
<circle cx="715.9" cy="292.5" r="0.6" fill="#000"/>
<circle cx="721.6" cy="292" r="2.4" fill="#fff" stroke="#000" stroke-width="1.3"/>
<circle cx="721.6" cy="292" r="0.6" fill="#000"/>
<circle cx="715.9" cy="298.1" r="2.4" fill="#fff" stroke="#000" stroke-width="1.3"/>
<circle cx="715.9" cy="298.1" r="0.6" fill="#000"/>
<circle cx="717.3" cy="272.2" r="1.9" fill="#fff" stroke="#000" stroke-width="1.3"/>
<circle cx="717.3" cy="272.2" r="0.6" fill="#000"/>
<circle cx="665.1" cy="290.1" r="2.3" fill="none" stroke="#000" stroke-width="0.8"/>
<circle cx="672.6" cy="288.3" r="1.0" fill="none" stroke="#000" stroke-width="0.7"/>
<circle cx="675" cy="290" r="1.0" fill="none" stroke="#000" stroke-width="0.7"/>
<rect x="680.2" y="277.2" width="3.0" height="2.6" fill="none" stroke="#000" stroke-width="0.9"/>
<rect x="684" y="276.6" width="2.4" height="2.0" fill="none" stroke="#000" stroke-width="0.7"/>
<circle cx="680.2" cy="283.3" r="0.9" fill="#000"/>
<circle cx="681.2" cy="285.6" r="0.8" fill="#000"/>
<circle cx="683.5" cy="286.6" r="1.0" fill="none" stroke="#000" stroke-width="0.7"/>
<circle cx="679" cy="287.4" r="0.9" fill="none" stroke="#000" stroke-width="0.7"/>
<rect x="694.8" y="281" width="2.5" height="2" fill="none" stroke="#000" stroke-width="0.7"/>
<circle cx="722" cy="298.1" r="1.9" fill="#000"/>
<circle cx="721.6" cy="270.4" r="2.2" fill="#000"/>
<circle cx="725.4" cy="269.4" r="2.2" fill="#000"/>
<circle cx="729.1" cy="269.4" r="2.2" fill="#000"/>
<circle cx="721.6" cy="275.1" r="2.2" fill="#000"/>
<circle cx="724.4" cy="274.1" r="2.2" fill="#000"/>
<circle cx="728.2" cy="275.1" r="2.2" fill="#000"/>
<circle cx="732.9" cy="273.2" r="2.2" fill="#000"/>
<circle cx="731" cy="277" r="2.2" fill="#000"/>
<circle cx="721.6" cy="277.6" r="2.2" fill="#000"/>
<circle cx="726.5" cy="277.8" r="2.2" fill="#000"/>
<circle cx="750.8" cy="270.4" r="2.2" fill="#000"/>
<circle cx="749.4" cy="274.1" r="2.2" fill="#000"/>
<circle cx="750.8" cy="277.4" r="2.2" fill="#000"/>
<circle cx="727.2" cy="291.1" r="2.2" fill="#000"/>
<circle cx="730.1" cy="294.4" r="2.2" fill="#000"/>
<circle cx="728.2" cy="296.9" r="2.2" fill="#000"/>
<circle cx="735.7" cy="293.9" r="2.2" fill="#000"/>
<circle cx="734.3" cy="297.7" r="2.2" fill="#000"/>
<circle cx="746.1" cy="294.9" r="2.2" fill="#000"/>
<circle cx="750.8" cy="294.9" r="2.2" fill="#000"/>
<circle cx="744.7" cy="298.6" r="2.2" fill="#000"/>
<circle cx="749.8" cy="298.6" r="2.2" fill="#000"/>
<circle cx="748" cy="297.2" r="2.2" fill="#000"/>
<path d="M688.20,283.10 C688.17,284.25 688.00,287.85 688.00,290.00 C688.00,292.15 688.10,294.10 688.20,296.00 C688.30,297.90 688.07,299.63 688.60,301.40 C689.13,303.17 690.93,305.73 691.40,306.60" fill="none" stroke="#000" stroke-width="0.7"/>
<path d="M692.40,274.10 C692.47,274.92 692.65,277.43 692.80,279.00 C692.95,280.57 693.22,282.75 693.30,283.50" fill="none" stroke="#000" stroke-width="0.6"/>
<path d="M706.50,270.40 C706.47,271.50 706.45,274.82 706.30,277.00 C706.15,279.18 705.72,282.42 705.60,283.50" fill="none" stroke="#000" stroke-width="0.6"/>
<polyline points="714,272.2 716,277.9 715,283.5" fill="none" stroke="#000" stroke-width="0.7"/>
<path d="M714.10,287.30 C713.95,288.42 713.52,291.65 713.20,294.00 C712.88,296.35 712.37,300.17 712.20,301.40" fill="none" stroke="#000" stroke-width="0.6"/>
<path d="M761.00,284.40 C762.83,284.32 768.33,284.17 772.00,283.90 C775.67,283.63 779.33,283.08 783.00,282.80 C786.67,282.52 790.43,282.33 794.00,282.20 C797.57,282.07 802.67,282.03 804.40,282.00" fill="none" stroke="#000" stroke-width="0.8"/>
<line x1="768" y1="284.2" x2="802" y2="283.6" stroke="#999" stroke-width="0.9"/>
<line x1="804.4" y1="282.0" x2="923.6" y2="282.0" stroke="#000" stroke-width="0.95"/>
<path d="M832,282.0 C836.2,282.0 839.8,285.1 844,285.1" fill="none" stroke="#000" stroke-width="0.6"/>
<path d="M832,285.1 C836.2,285.1 839.8,282.0 844,282.0" fill="none" stroke="#000" stroke-width="0.6"/>
<rect x="858.16" y="287.40" width="10.08" height="4.32" fill="#fff" stroke="#000" stroke-width="1"/>
<rect x="859.60" y="288.91" width="1.44" height="1.94" fill="#fff" stroke="#000" stroke-width="0.7"/>
<rect x="862.48" y="288.91" width="1.44" height="1.94" fill="#fff" stroke="#000" stroke-width="0.7"/>
<rect x="865.36" y="288.91" width="1.44" height="1.94" fill="#fff" stroke="#000" stroke-width="0.7"/>
<polygon points="856.20,292.02 870.20,292.02 867.68,294.60 858.72,294.60" fill="#bbb" stroke="#000" stroke-width="0.6"/>
<path d="M923.60,282.00 C925.50,282.05 931.10,282.07 935.00,282.30 C938.90,282.53 943.17,283.07 947.00,283.40 C950.83,283.73 956.17,284.15 958.00,284.30" fill="none" stroke="#000" stroke-width="0.8"/>
<line x1="930" y1="283.6" x2="955" y2="284.2" stroke="#999" stroke-width="0.9"/>
<line x1="985.5" y1="277.4" x2="1014" y2="277.4" stroke="#000" stroke-width="1.5"/>
<line x1="984" y1="282.2" x2="1015.8" y2="282.2" stroke="#555" stroke-width="0.8"/>
<line x1="983.5" y1="284.3" x2="1016.2" y2="284.3" stroke="#555" stroke-width="0.8"/>
<path d="M984.20,288.20 C985.50,288.32 989.37,288.75 992.00,288.90 C994.63,289.05 997.33,289.10 1000.00,289.10 C1002.67,289.10 1005.42,289.05 1008.00,288.90 C1010.58,288.75 1014.25,288.32 1015.50,288.20" fill="none" stroke="#000" stroke-width="0.8"/>
<path d="M985.20,279.60 C986.33,279.72 989.53,280.15 992.00,280.30 C994.47,280.45 997.33,280.50 1000.00,280.50 C1002.67,280.50 1005.60,280.45 1008.00,280.30 C1010.40,280.15 1013.33,279.72 1014.40,279.60" fill="none" stroke="#555" stroke-width="0.6"/>
<circle cx="992.2" cy="293.6" r="0.6" fill="#000"/>
<line x1="974.6" y1="284.3" x2="983.5" y2="284.3" stroke="#888" stroke-width="0.8"/>
<rect x="736.8" y="554.4" width="26.0" height="4.4" fill="none" stroke="#000" stroke-width="1.1"/>
<rect x="738.4" y="555.5" width="2.2" height="2.2" fill="#fff" stroke="#000" stroke-width="0.8"/>
<rect x="741.6" y="555.5" width="2.2" height="2.2" fill="#fff" stroke="#000" stroke-width="0.8"/>
<rect x="744.8" y="555.5" width="2.2" height="2.2" fill="#fff" stroke="#000" stroke-width="0.8"/>
<rect x="752" y="555.5" width="2.2" height="2.2" fill="#fff" stroke="#000" stroke-width="0.8"/>
<rect x="755.2" y="555.5" width="2.2" height="2.2" fill="#fff" stroke="#000" stroke-width="0.8"/>
<rect x="758.4" y="555.5" width="2.2" height="2.2" fill="#fff" stroke="#000" stroke-width="0.8"/>
<line x1="735.6" y1="560.1" x2="764" y2="560.1" stroke="#000" stroke-width="1.2"/>
<polyline points="736,560.6 739,561.9 760.6,561.9 763.6,560.6" fill="none" stroke="#000" stroke-width="0.7"/>
<line x1="630.4" y1="410.4" x2="630.4" y2="412.3" stroke="#000" stroke-width="0.8"/>
<circle cx="498.6" cy="248.4" r="0.45" fill="#000"/>
<line x1="1127.3" y1="342.2" x2="1132.6999999999998" y2="346.6" stroke="#bbb" stroke-width="0.35"/>
<line x1="1144.3875" y1="342.2" x2="1149.7875" y2="346.6" stroke="#bbb" stroke-width="0.35"/>
<line x1="1161.475" y1="342.2" x2="1166.8749999999998" y2="346.6" stroke="#bbb" stroke-width="0.35"/>
<line x1="1178.5625" y1="342.2" x2="1183.9624999999999" y2="346.6" stroke="#bbb" stroke-width="0.35"/>
<line x1="1195.6499999999999" y1="342.2" x2="1201.0499999999997" y2="346.6" stroke="#bbb" stroke-width="0.35"/>
<line x1="1212.7375" y1="342.2" x2="1218.1374999999998" y2="346.6" stroke="#bbb" stroke-width="0.35"/>
<line x1="1229.825" y1="342.2" x2="1235.225" y2="346.6" stroke="#bbb" stroke-width="0.35"/>
<line x1="1246.9125" y1="342.2" x2="1252.3124999999998" y2="346.6" stroke="#bbb" stroke-width="0.35"/>
<line x1="985.2" y1="290.4" x2="1014.3" y2="290.4" stroke="#000" stroke-width="0.7"/>
<line x1="104.3" y1="406.7" x2="103.7" y2="410.1" stroke="#000" stroke-width="0.6"/>
<line x1="105.7" y1="406.7" x2="105.2" y2="410.1" stroke="#000" stroke-width="0.6"/>
<line x1="103.7" y1="408.3" x2="105.89999999999999" y2="408.3" stroke="#000" stroke-width="0.5"/>
<line x1="116.6" y1="446.0" x2="116.0" y2="449.40000000000003" stroke="#000" stroke-width="0.6"/>
<line x1="118.0" y1="446.0" x2="117.5" y2="449.40000000000003" stroke="#000" stroke-width="0.6"/>
<line x1="116.0" y1="447.6" x2="118.19999999999999" y2="447.6" stroke="#000" stroke-width="0.5"/>
<line x1="100.4" y1="445.9" x2="99.80000000000001" y2="449.3" stroke="#000" stroke-width="0.6"/>
<line x1="101.80000000000001" y1="445.9" x2="101.30000000000001" y2="449.3" stroke="#000" stroke-width="0.6"/>
<line x1="99.80000000000001" y1="447.5" x2="102.0" y2="447.5" stroke="#000" stroke-width="0.5"/>
<path d="M1329.5,151 C1329.5,154.85 1332.5,158.15 1332.5,162" fill="none" stroke="#000" stroke-width="0.8"/>
<line x1="114.5" y1="333.2" x2="116" y2="336.5" stroke="#000" stroke-width="0.6"/>
<line x1="116.8" y1="333.2" x2="116" y2="336.5" stroke="#000" stroke-width="0.6"/>
</svg>
</body></html>
